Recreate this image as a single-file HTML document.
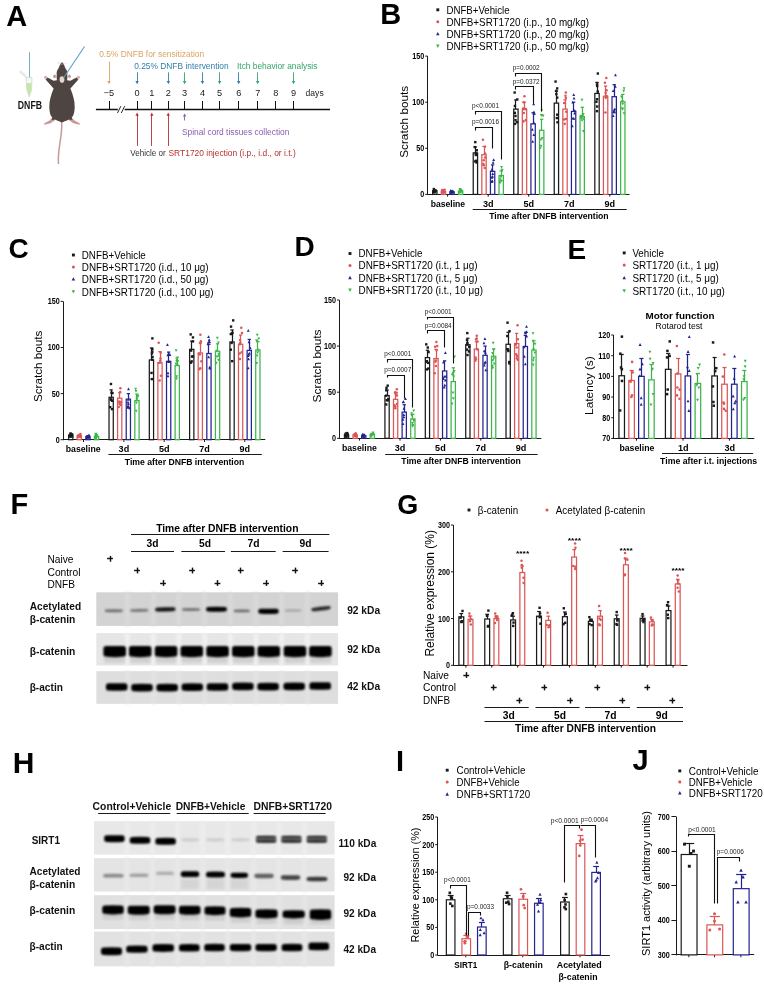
<!DOCTYPE html>
<html><head><meta charset="utf-8"><style>
html,body{margin:0;padding:0;background:#fff;}
body{width:764px;height:985px;overflow:hidden;}
svg{display:block;font-family:"Liberation Sans", sans-serif;filter:blur(0.3px);}
</style></head><body>
<svg width="764" height="985" viewBox="0 0 764 985">
<defs>
<filter id="bl" x="-20%" y="-100%" width="140%" height="300%"><feGaussianBlur stdDeviation="0.85"/></filter>
<filter id="bl2" x="-100%" y="-20%" width="300%" height="140%"><feGaussianBlur stdDeviation="1.6"/></filter>
</defs>
<rect width="764" height="985" fill="#fff"/>
<text x="6.2" y="26.3" font-size="29" font-weight="bold" fill="#000">A</text>
<line x1="29.5" y1="52.2" x2="29.5" y2="77.5" stroke="#6fa8cc" stroke-width="0.95"/>
<path d="M19.2,71.6 L26,77.6 M20.2,70.6 L26.6,76.4" fill="none" stroke="#bdbdbd" stroke-width="0.6"/>
<path d="M26,77.5 L32,77.5 L31.6,90 L29.2,97 L26.8,90 Z" fill="#f4f7f4" stroke="#c4ccc4" stroke-width="0.6"/>
<path d="M26.4,83 L31.6,83 L31.3,90 L29.2,96.3 L27.1,90 Z" fill="#c4e6a8"/>
<text x="17.8" y="108.8" font-size="10" font-weight="bold" fill="#111" textLength="24.2" lengthAdjust="spacingAndGlyphs">DNFB</text>
<path d="M61.6,122 C63,135 57,150 58.5,164" fill="none" stroke="#c49a98" stroke-width="1.5"/>
<path d="M54,116 L49.5,120.5 L44,123.6 L44.6,124.8 L50.5,123.2 L56,119.5 Z" fill="#c99794"/>
<path d="M53.2,115.5 L51.5,119.5 L54.2,120 L56,117 Z" fill="#4e4543"/>
<path d="M70,116 L74.5,120.5 L80,123.6 L79.4,124.8 L73.5,123.2 L68,119.5 Z" fill="#c99794"/>
<path d="M70.8,115.5 L72.5,119.5 L69.8,120 L68,117 Z" fill="#4e4543"/>
<circle cx="45.6" cy="77.3" r="1.6" fill="#d9b0aa"/>
<circle cx="78.4" cy="77.3" r="1.6" fill="#d9b0aa"/>
<path d="M62,62.3 C60.6,62.8 59.6,65.5 58.6,68.3 C57.2,70 56.4,72 56.7,74.2 C56.5,76.3 56.6,78.2 56.9,80.2 L53.6,80.8 L47.6,77.6 L45.6,79.6 L53.6,88.6 C51,95 49.1,101 49.3,107.5 C49.5,112 50.1,115 52,117.2 C54.5,119.6 58,120.9 61.9,122.4 C66,120.9 69.5,119.6 72,117.2 C73.9,115 74.5,112 74.7,107.5 C74.9,101 73,95 70.4,88.6 L78.4,79.6 L76.4,77.6 L70.4,80.8 L67.1,80.2 C67.4,78.2 67.5,76.3 67.3,74.2 C67.6,72 66.8,70 65.4,68.3 C64.4,65.5 63.4,62.8 62,62.3 Z" fill="#4e4543"/>
<ellipse cx="54.6" cy="76.3" rx="1.5" ry="1.9" fill="#cf9a95"/>
<ellipse cx="69.4" cy="76.3" rx="1.5" ry="1.9" fill="#cf9a95"/>
<ellipse cx="62" cy="79.6" rx="2.4" ry="3.3" fill="#e5d6cc"/>
<path d="M57,63 L62,64.5 M57.5,61.5 L62,64 M67,63 L62.5,64.5" stroke="#cfcfcf" stroke-width="0.4"/>
<line x1="84.5" y1="46.5" x2="63.5" y2="78" stroke="#5b9cc4" stroke-width="1.1"/>
<text x="99.2" y="56.7" font-size="9.2" fill="#d9a564" textLength="105" lengthAdjust="spacingAndGlyphs">0.5% DNFB for sensitization</text>
<text x="134.2" y="69" font-size="9.2" fill="#2f7fa8" textLength="94.5" lengthAdjust="spacingAndGlyphs">0.25% DNFB intervention</text>
<text x="237" y="69" font-size="9.2" fill="#35a46a" textLength="80.4" lengthAdjust="spacingAndGlyphs">Itch behavior analysis</text>
<line x1="109.5" y1="61.6" x2="109.5" y2="82.7" stroke="#d9a564" stroke-width="0.9"/>
<polygon points="107.3,81 110.7,81 109,84.2" fill="#d9a564"/>
<line x1="137.5" y1="72.4" x2="137.5" y2="82.7" stroke="#2f7fa8" stroke-width="0.9"/>
<polygon points="135.4,81 138.8,81 137.1,84.2" fill="#2f7fa8"/>
<line x1="168.5" y1="72.4" x2="168.5" y2="82.7" stroke="#2f7fa8" stroke-width="0.9"/>
<polygon points="166.7,81 170.1,81 168.4,84.2" fill="#2f7fa8"/>
<line x1="202.5" y1="72.4" x2="202.5" y2="82.7" stroke="#2f7fa8" stroke-width="0.9"/>
<polygon points="200.8,81 204.2,81 202.5,84.2" fill="#2f7fa8"/>
<line x1="238.5" y1="72.4" x2="238.5" y2="82.7" stroke="#2f7fa8" stroke-width="0.9"/>
<polygon points="237,81 240.4,81 238.7,84.2" fill="#2f7fa8"/>
<line x1="184.5" y1="72.4" x2="184.5" y2="82.7" stroke="#35a46a" stroke-width="0.9"/>
<polygon points="182.9,81 186.3,81 184.6,84.2" fill="#35a46a"/>
<line x1="219.5" y1="72.4" x2="219.5" y2="82.7" stroke="#35a46a" stroke-width="0.9"/>
<polygon points="217.9,81 221.3,81 219.6,84.2" fill="#35a46a"/>
<line x1="257.5" y1="72.4" x2="257.5" y2="82.7" stroke="#35a46a" stroke-width="0.9"/>
<polygon points="256,81 259.4,81 257.7,84.2" fill="#35a46a"/>
<line x1="293.5" y1="72.4" x2="293.5" y2="82.7" stroke="#35a46a" stroke-width="0.9"/>
<polygon points="291.8,81 295.2,81 293.5,84.2" fill="#35a46a"/>
<text x="109" y="95.6" font-size="9.2" fill="#222" text-anchor="middle">−5</text>
<text x="137.1" y="95.6" font-size="9.2" fill="#222" text-anchor="middle">0</text>
<text x="151.8" y="95.6" font-size="9.2" fill="#222" text-anchor="middle">1</text>
<text x="168.2" y="95.6" font-size="9.2" fill="#222" text-anchor="middle">2</text>
<text x="184.6" y="95.6" font-size="9.2" fill="#222" text-anchor="middle">3</text>
<text x="202.5" y="95.6" font-size="9.2" fill="#222" text-anchor="middle">4</text>
<text x="219.6" y="95.6" font-size="9.2" fill="#222" text-anchor="middle">5</text>
<text x="238.8" y="95.6" font-size="9.2" fill="#222" text-anchor="middle">6</text>
<text x="257.7" y="95.6" font-size="9.2" fill="#222" text-anchor="middle">7</text>
<text x="275.8" y="95.6" font-size="9.2" fill="#222" text-anchor="middle">8</text>
<text x="293.5" y="95.6" font-size="9.2" fill="#222" text-anchor="middle">9</text>
<text x="305.6" y="95.6" font-size="9.2" fill="#222" textLength="18.1" lengthAdjust="spacingAndGlyphs">days</text>
<line x1="95.9" y1="109.5" x2="330" y2="109.5" stroke="#111" stroke-width="1.3"/>
<line x1="109.5" y1="101" x2="109.5" y2="109.6" stroke="#111" stroke-width="1"/>
<line x1="137.5" y1="101" x2="137.5" y2="109.6" stroke="#111" stroke-width="1"/>
<line x1="151.5" y1="101" x2="151.5" y2="109.6" stroke="#111" stroke-width="1"/>
<line x1="168.5" y1="101" x2="168.5" y2="109.6" stroke="#111" stroke-width="1"/>
<line x1="184.5" y1="101" x2="184.5" y2="109.6" stroke="#111" stroke-width="1"/>
<line x1="202.5" y1="101" x2="202.5" y2="109.6" stroke="#111" stroke-width="1"/>
<line x1="219.5" y1="101" x2="219.5" y2="109.6" stroke="#111" stroke-width="1"/>
<line x1="238.5" y1="101" x2="238.5" y2="109.6" stroke="#111" stroke-width="1"/>
<line x1="257.5" y1="101" x2="257.5" y2="109.6" stroke="#111" stroke-width="1"/>
<line x1="275.5" y1="101" x2="275.5" y2="109.6" stroke="#111" stroke-width="1"/>
<line x1="293.5" y1="101" x2="293.5" y2="109.6" stroke="#111" stroke-width="1"/>
<rect x="117.8" y="107" width="6.8" height="5" fill="#fff"/>
<line x1="117.5" y1="113" x2="120.8" y2="106.2" stroke="#111" stroke-width="0.9"/>
<line x1="121.3" y1="113" x2="124.6" y2="106.2" stroke="#111" stroke-width="0.9"/>
<line x1="137.5" y1="146" x2="137.5" y2="114.1" stroke="#b3322f" stroke-width="0.9"/>
<polygon points="135.4,115.8 138.8,115.8 137.1,112.6" fill="#b3322f"/>
<line x1="151.5" y1="146" x2="151.5" y2="114.1" stroke="#b3322f" stroke-width="0.9"/>
<polygon points="150.1,115.8 153.5,115.8 151.8,112.6" fill="#b3322f"/>
<line x1="168.5" y1="146" x2="168.5" y2="114.1" stroke="#b3322f" stroke-width="0.9"/>
<polygon points="166.5,115.8 169.9,115.8 168.2,112.6" fill="#b3322f"/>
<line x1="184.5" y1="120.5" x2="184.5" y2="114.9" stroke="#8a5cb0" stroke-width="0.9"/>
<polygon points="182.9,116.6 186.3,116.6 184.6,113.4" fill="#8a5cb0"/>
<text x="181.9" y="134.6" font-size="9.2" fill="#8a5cb0" textLength="107.5" lengthAdjust="spacingAndGlyphs">Spinal cord tissues collection</text>
<text x="130.3" y="155.5" font-size="9.2" fill="#333" textLength="35.3" lengthAdjust="spacingAndGlyphs">Vehicle or</text>
<text x="168.5" y="155.5" font-size="9.2" fill="#b3322f" textLength="127.2" lengthAdjust="spacingAndGlyphs">SRT1720 injection (i.p., i.d., or i.t.)</text>
<text x="380.2" y="24.2" font-size="29" font-weight="bold" fill="#000">B</text>
<rect x="436.35" y="8.36" width="2.9" height="2.9" fill="#1a1a1a"/>
<text x="446.5" y="13.7" font-size="10.8" textLength="63.1" lengthAdjust="spacingAndGlyphs">DNFB+Vehicle</text>
<circle cx="437.8" cy="21.71" r="1.52" fill="#dc5656"/>
<text x="446.5" y="25.6" font-size="10.8" textLength="142.5" lengthAdjust="spacingAndGlyphs">DNFB+SRT1720 (i.p., 10 mg/kg)</text>
<polygon points="437.8,31.93 436.06,35.26 439.54,35.26" fill="#23238f"/>
<text x="446.5" y="37.7" font-size="10.8" textLength="142.5" lengthAdjust="spacingAndGlyphs">DNFB+SRT1720 (i.p., 20 mg/kg)</text>
<polygon points="437.8,47.9 436.06,44.56 439.54,44.56" fill="#3db54a"/>
<text x="446.5" y="49.9" font-size="10.8" textLength="142.5" lengthAdjust="spacingAndGlyphs">DNFB+SRT1720 (i.p., 50 mg/kg)</text>
<line x1="427.5" y1="56.1" x2="427.5" y2="194.9" stroke="#1a1a1a" stroke-width="1"/>
<line x1="425.2" y1="194.4" x2="427.5" y2="194.4" stroke="#1a1a1a" stroke-width="1"/>
<text x="424.2" y="197.35" font-size="8.2" font-weight="bold" text-anchor="end" textLength="4" lengthAdjust="spacingAndGlyphs">0</text>
<line x1="425.2" y1="148.3" x2="427.5" y2="148.3" stroke="#1a1a1a" stroke-width="1"/>
<text x="424.2" y="151.25" font-size="8.2" font-weight="bold" text-anchor="end" textLength="8" lengthAdjust="spacingAndGlyphs">50</text>
<line x1="425.2" y1="102.2" x2="427.5" y2="102.2" stroke="#1a1a1a" stroke-width="1"/>
<text x="424.2" y="105.15" font-size="8.2" font-weight="bold" text-anchor="end" textLength="12" lengthAdjust="spacingAndGlyphs">100</text>
<line x1="425.2" y1="56.1" x2="427.5" y2="56.1" stroke="#1a1a1a" stroke-width="1"/>
<text x="424.2" y="59.05" font-size="8.2" font-weight="bold" text-anchor="end" textLength="12" lengthAdjust="spacingAndGlyphs">150</text>
<line x1="427.5" y1="194.5" x2="629.5" y2="194.5" stroke="#1a1a1a" stroke-width="1"/>
<line x1="447.6" y1="194.4" x2="447.6" y2="196.7" stroke="#1a1a1a" stroke-width="1"/>
<line x1="488.2" y1="194.4" x2="488.2" y2="196.7" stroke="#1a1a1a" stroke-width="1"/>
<line x1="528.7" y1="194.4" x2="528.7" y2="196.7" stroke="#1a1a1a" stroke-width="1"/>
<line x1="569.2" y1="194.4" x2="569.2" y2="196.7" stroke="#1a1a1a" stroke-width="1"/>
<line x1="609.8" y1="194.4" x2="609.8" y2="196.7" stroke="#1a1a1a" stroke-width="1"/>
<rect x="432.62" y="190.71" width="4.35" height="3.69" fill="#fff" stroke="#1a1a1a" stroke-width="1.25"/>
<line x1="434.8" y1="190.71" x2="434.8" y2="189.79" stroke="#1a1a1a" stroke-width="1.25"/>
<line x1="433.12" y1="189.79" x2="436.48" y2="189.79" stroke="#1a1a1a" stroke-width="1.25"/>
<rect x="432.62" y="187.85" width="2.4" height="2.4" fill="#1a1a1a"/>
<rect x="432.4" y="190.99" width="2.4" height="2.4" fill="#1a1a1a"/>
<rect x="433.22" y="189.41" width="2.4" height="2.4" fill="#1a1a1a"/>
<rect x="433.62" y="190.73" width="2.4" height="2.4" fill="#1a1a1a"/>
<rect x="433.41" y="190.79" width="2.4" height="2.4" fill="#1a1a1a"/>
<rect x="432.45" y="190.7" width="2.4" height="2.4" fill="#1a1a1a"/>
<rect x="434.52" y="189.72" width="2.4" height="2.4" fill="#1a1a1a"/>
<rect x="432.83" y="190.55" width="2.4" height="2.4" fill="#1a1a1a"/>
<rect x="441.23" y="191.36" width="4.35" height="3.04" fill="#fff" stroke="#dc5656" stroke-width="1.25"/>
<line x1="443.4" y1="191.36" x2="443.4" y2="190.44" stroke="#dc5656" stroke-width="1.25"/>
<line x1="441.72" y1="190.44" x2="445.08" y2="190.44" stroke="#dc5656" stroke-width="1.25"/>
<circle cx="444.65" cy="189.7" r="1.26" fill="#dc5656"/>
<circle cx="443.11" cy="192.83" r="1.26" fill="#dc5656"/>
<circle cx="442.13" cy="190.04" r="1.26" fill="#dc5656"/>
<circle cx="442.81" cy="190.37" r="1.26" fill="#dc5656"/>
<circle cx="442.33" cy="192.34" r="1.26" fill="#dc5656"/>
<circle cx="444.29" cy="191.89" r="1.26" fill="#dc5656"/>
<circle cx="443.63" cy="192.24" r="1.26" fill="#dc5656"/>
<circle cx="443.04" cy="190.97" r="1.26" fill="#dc5656"/>
<rect x="449.82" y="191.82" width="4.35" height="2.58" fill="#fff" stroke="#23238f" stroke-width="1.25"/>
<line x1="452" y1="191.82" x2="452" y2="191.08" stroke="#23238f" stroke-width="1.25"/>
<line x1="450.32" y1="191.08" x2="453.68" y2="191.08" stroke="#23238f" stroke-width="1.25"/>
<polygon points="450.78,188.93 449.34,191.69 452.22,191.69" fill="#23238f"/>
<polygon points="451.18,191.44 449.74,194.2 452.62,194.2" fill="#23238f"/>
<polygon points="451.8,189.86 450.36,192.62 453.24,192.62" fill="#23238f"/>
<polygon points="452.24,190.67 450.8,193.43 453.68,193.43" fill="#23238f"/>
<polygon points="451.44,190.36 450,193.12 452.88,193.12" fill="#23238f"/>
<polygon points="452.56,189.61 451.12,192.37 454,192.37" fill="#23238f"/>
<polygon points="452.21,190.82 450.77,193.58 453.65,193.58" fill="#23238f"/>
<polygon points="453.05,190.2 451.61,192.96 454.49,192.96" fill="#23238f"/>
<rect x="458.43" y="190.9" width="4.35" height="3.5" fill="#fff" stroke="#3db54a" stroke-width="1.25"/>
<line x1="460.6" y1="190.9" x2="460.6" y2="189.97" stroke="#3db54a" stroke-width="1.25"/>
<line x1="458.92" y1="189.97" x2="462.28" y2="189.97" stroke="#3db54a" stroke-width="1.25"/>
<polygon points="460.01,190.8 458.57,188.04 461.45,188.04" fill="#3db54a"/>
<polygon points="459.53,193.93 458.09,191.17 460.97,191.17" fill="#3db54a"/>
<polygon points="461.32,192.68 459.88,189.92 462.76,189.92" fill="#3db54a"/>
<polygon points="460.57,193.42 459.13,190.66 462.01,190.66" fill="#3db54a"/>
<polygon points="461.07,193.73 459.63,190.97 462.51,190.97" fill="#3db54a"/>
<polygon points="460.8,191.72 459.36,188.96 462.24,188.96" fill="#3db54a"/>
<polygon points="460.08,191.42 458.64,188.66 461.52,188.66" fill="#3db54a"/>
<polygon points="460.86,191.92 459.42,189.16 462.3,189.16" fill="#3db54a"/>
<rect x="473.23" y="152.91" width="4.35" height="41.49" fill="#fff" stroke="#1a1a1a" stroke-width="1.25"/>
<line x1="475.5" y1="152.91" x2="475.5" y2="146.92" stroke="#1a1a1a" stroke-width="1.25"/>
<line x1="473.72" y1="146.92" x2="477.08" y2="146.92" stroke="#1a1a1a" stroke-width="1.25"/>
<rect x="474.08" y="140.92" width="2.4" height="2.4" fill="#1a1a1a"/>
<rect x="475.45" y="161.3" width="2.4" height="2.4" fill="#1a1a1a"/>
<rect x="474.66" y="152.18" width="2.4" height="2.4" fill="#1a1a1a"/>
<rect x="474.76" y="159.61" width="2.4" height="2.4" fill="#1a1a1a"/>
<rect x="475.58" y="149.06" width="2.4" height="2.4" fill="#1a1a1a"/>
<rect x="473.6" y="145.92" width="2.4" height="2.4" fill="#1a1a1a"/>
<rect x="474.67" y="153.76" width="2.4" height="2.4" fill="#1a1a1a"/>
<rect x="474.09" y="160.29" width="2.4" height="2.4" fill="#1a1a1a"/>
<rect x="481.83" y="154.75" width="4.35" height="39.65" fill="#fff" stroke="#dc5656" stroke-width="1.25"/>
<line x1="484.5" y1="154.75" x2="484.5" y2="146.46" stroke="#dc5656" stroke-width="1.25"/>
<line x1="482.32" y1="146.46" x2="485.68" y2="146.46" stroke="#dc5656" stroke-width="1.25"/>
<circle cx="482.93" cy="139.82" r="1.26" fill="#dc5656"/>
<circle cx="484.75" cy="168.03" r="1.26" fill="#dc5656"/>
<circle cx="483.29" cy="163.98" r="1.26" fill="#dc5656"/>
<circle cx="485.04" cy="157.47" r="1.26" fill="#dc5656"/>
<circle cx="483.86" cy="165.2" r="1.26" fill="#dc5656"/>
<circle cx="485.07" cy="153.52" r="1.26" fill="#dc5656"/>
<circle cx="485.02" cy="146.81" r="1.26" fill="#dc5656"/>
<circle cx="483.76" cy="160.27" r="1.26" fill="#dc5656"/>
<rect x="490.43" y="171.35" width="4.35" height="23.05" fill="#fff" stroke="#23238f" stroke-width="1.25"/>
<line x1="492.5" y1="171.35" x2="492.5" y2="164.9" stroke="#23238f" stroke-width="1.25"/>
<line x1="490.92" y1="164.9" x2="494.28" y2="164.9" stroke="#23238f" stroke-width="1.25"/>
<polygon points="493.68,158.17 492.24,160.93 495.12,160.93" fill="#23238f"/>
<polygon points="491.62,180.12 490.18,182.88 493.06,182.88" fill="#23238f"/>
<polygon points="491.85,176.06 490.41,178.82 493.29,178.82" fill="#23238f"/>
<polygon points="492.56,174.95 491.12,177.71 494,177.71" fill="#23238f"/>
<polygon points="491.94,168.06 490.5,170.82 493.38,170.82" fill="#23238f"/>
<polygon points="492.37,179.39 490.93,182.15 493.81,182.15" fill="#23238f"/>
<polygon points="492.79,172.32 491.35,175.08 494.23,175.08" fill="#23238f"/>
<polygon points="493.13,161.02 491.69,163.78 494.57,163.78" fill="#23238f"/>
<rect x="499.03" y="175.5" width="4.35" height="18.9" fill="#fff" stroke="#3db54a" stroke-width="1.25"/>
<line x1="501.5" y1="175.5" x2="501.5" y2="170.89" stroke="#3db54a" stroke-width="1.25"/>
<line x1="499.52" y1="170.89" x2="502.88" y2="170.89" stroke="#3db54a" stroke-width="1.25"/>
<polygon points="501.53,168.76 500.09,166 502.97,166" fill="#3db54a"/>
<polygon points="499.95,184.44 498.51,181.68 501.39,181.68" fill="#3db54a"/>
<polygon points="501.98,171.53 500.54,168.77 503.42,168.77" fill="#3db54a"/>
<polygon points="502.03,171.88 500.59,169.12 503.47,169.12" fill="#3db54a"/>
<polygon points="500.92,178.55 499.48,175.79 502.36,175.79" fill="#3db54a"/>
<polygon points="501.58,182.54 500.14,179.78 503.02,179.78" fill="#3db54a"/>
<polygon points="499.99,183.11 498.55,180.35 501.43,180.35" fill="#3db54a"/>
<polygon points="500.25,181.09 498.81,178.33 501.69,178.33" fill="#3db54a"/>
<rect x="513.73" y="109.11" width="4.35" height="85.29" fill="#fff" stroke="#1a1a1a" stroke-width="1.25"/>
<line x1="515.5" y1="109.11" x2="515.5" y2="99.89" stroke="#1a1a1a" stroke-width="1.25"/>
<line x1="514.22" y1="99.89" x2="517.58" y2="99.89" stroke="#1a1a1a" stroke-width="1.25"/>
<rect x="513.45" y="91.32" width="2.4" height="2.4" fill="#1a1a1a"/>
<rect x="513.72" y="122.67" width="2.4" height="2.4" fill="#1a1a1a"/>
<rect x="514.32" y="118.94" width="2.4" height="2.4" fill="#1a1a1a"/>
<rect x="515.75" y="121.04" width="2.4" height="2.4" fill="#1a1a1a"/>
<rect x="513.72" y="104.76" width="2.4" height="2.4" fill="#1a1a1a"/>
<rect x="514.27" y="114.77" width="2.4" height="2.4" fill="#1a1a1a"/>
<rect x="513.64" y="111.67" width="2.4" height="2.4" fill="#1a1a1a"/>
<rect x="516.08" y="98.26" width="2.4" height="2.4" fill="#1a1a1a"/>
<rect x="522.33" y="109.58" width="4.35" height="84.82" fill="#fff" stroke="#dc5656" stroke-width="1.25"/>
<line x1="524.5" y1="109.58" x2="524.5" y2="102.2" stroke="#dc5656" stroke-width="1.25"/>
<line x1="522.82" y1="102.2" x2="526.18" y2="102.2" stroke="#dc5656" stroke-width="1.25"/>
<circle cx="524.45" cy="96.3" r="1.26" fill="#dc5656"/>
<circle cx="523.39" cy="121.38" r="1.26" fill="#dc5656"/>
<circle cx="523.84" cy="113.06" r="1.26" fill="#dc5656"/>
<circle cx="523.55" cy="102.3" r="1.26" fill="#dc5656"/>
<circle cx="525.76" cy="120.13" r="1.26" fill="#dc5656"/>
<circle cx="523.51" cy="108.95" r="1.26" fill="#dc5656"/>
<circle cx="523.18" cy="108.62" r="1.26" fill="#dc5656"/>
<circle cx="525.84" cy="108.95" r="1.26" fill="#dc5656"/>
<rect x="530.93" y="123.87" width="4.35" height="70.53" fill="#fff" stroke="#23238f" stroke-width="1.25"/>
<line x1="533.5" y1="123.87" x2="533.5" y2="112.8" stroke="#23238f" stroke-width="1.25"/>
<line x1="531.42" y1="112.8" x2="534.78" y2="112.8" stroke="#23238f" stroke-width="1.25"/>
<polygon points="533.65,102.39 532.21,105.15 535.09,105.15" fill="#23238f"/>
<polygon points="532.73,140.01 531.29,142.77 534.17,142.77" fill="#23238f"/>
<polygon points="533.86,133.36 532.42,136.12 535.3,136.12" fill="#23238f"/>
<polygon points="533.88,121.23 532.44,123.99 535.32,123.99" fill="#23238f"/>
<polygon points="532.32,127.96 530.88,130.72 533.76,130.72" fill="#23238f"/>
<polygon points="534.46,111.97 533.02,114.73 535.9,114.73" fill="#23238f"/>
<polygon points="533.96,110.6 532.52,113.36 535.4,113.36" fill="#23238f"/>
<polygon points="533.77,111.74 532.33,114.5 535.21,114.5" fill="#23238f"/>
<rect x="539.52" y="130.32" width="4.35" height="64.08" fill="#fff" stroke="#3db54a" stroke-width="1.25"/>
<line x1="541.5" y1="130.32" x2="541.5" y2="119.26" stroke="#3db54a" stroke-width="1.25"/>
<line x1="540.02" y1="119.26" x2="543.38" y2="119.26" stroke="#3db54a" stroke-width="1.25"/>
<polygon points="541.75,111.97 540.31,109.21 543.19,109.21" fill="#3db54a"/>
<polygon points="540.38,149.58 538.94,146.82 541.82,146.82" fill="#3db54a"/>
<polygon points="541.08,147.55 539.64,144.79 542.52,144.79" fill="#3db54a"/>
<polygon points="542.24,139.87 540.8,137.11 543.68,137.11" fill="#3db54a"/>
<polygon points="541.55,116.73 540.11,113.97 542.99,113.97" fill="#3db54a"/>
<polygon points="543.07,117.38 541.63,114.62 544.51,114.62" fill="#3db54a"/>
<polygon points="541.32,116.78 539.88,114.02 542.76,114.02" fill="#3db54a"/>
<polygon points="540.94,141.16 539.5,138.4 542.38,138.4" fill="#3db54a"/>
<rect x="554.23" y="103.12" width="4.35" height="91.28" fill="#fff" stroke="#1a1a1a" stroke-width="1.25"/>
<line x1="556.5" y1="103.12" x2="556.5" y2="91.14" stroke="#1a1a1a" stroke-width="1.25"/>
<line x1="554.72" y1="91.14" x2="558.08" y2="91.14" stroke="#1a1a1a" stroke-width="1.25"/>
<rect x="554.37" y="80.35" width="2.4" height="2.4" fill="#1a1a1a"/>
<rect x="556.32" y="121.1" width="2.4" height="2.4" fill="#1a1a1a"/>
<rect x="555.14" y="89.68" width="2.4" height="2.4" fill="#1a1a1a"/>
<rect x="556.04" y="96.42" width="2.4" height="2.4" fill="#1a1a1a"/>
<rect x="555.65" y="116.85" width="2.4" height="2.4" fill="#1a1a1a"/>
<rect x="555.99" y="87.19" width="2.4" height="2.4" fill="#1a1a1a"/>
<rect x="555.14" y="92.93" width="2.4" height="2.4" fill="#1a1a1a"/>
<rect x="556.01" y="113.48" width="2.4" height="2.4" fill="#1a1a1a"/>
<rect x="562.83" y="109.11" width="4.35" height="85.29" fill="#fff" stroke="#dc5656" stroke-width="1.25"/>
<line x1="565.5" y1="109.11" x2="565.5" y2="99.89" stroke="#dc5656" stroke-width="1.25"/>
<line x1="563.32" y1="99.89" x2="566.68" y2="99.89" stroke="#dc5656" stroke-width="1.25"/>
<circle cx="565.84" cy="92.52" r="1.26" fill="#dc5656"/>
<circle cx="564.71" cy="123.87" r="1.26" fill="#dc5656"/>
<circle cx="566.25" cy="111.84" r="1.26" fill="#dc5656"/>
<circle cx="564.08" cy="102.9" r="1.26" fill="#dc5656"/>
<circle cx="564.02" cy="119.43" r="1.26" fill="#dc5656"/>
<circle cx="565.86" cy="97.92" r="1.26" fill="#dc5656"/>
<circle cx="565.91" cy="118.9" r="1.26" fill="#dc5656"/>
<circle cx="565.44" cy="95.83" r="1.26" fill="#dc5656"/>
<rect x="571.43" y="111.42" width="4.35" height="82.98" fill="#fff" stroke="#23238f" stroke-width="1.25"/>
<line x1="573.5" y1="111.42" x2="573.5" y2="102.2" stroke="#23238f" stroke-width="1.25"/>
<line x1="571.92" y1="102.2" x2="575.28" y2="102.2" stroke="#23238f" stroke-width="1.25"/>
<polygon points="573.74,93.26 572.3,96.02 575.18,96.02" fill="#23238f"/>
<polygon points="572.24,124.61 570.8,127.37 573.68,127.37" fill="#23238f"/>
<polygon points="574.02,96.84 572.58,99.6 575.46,99.6" fill="#23238f"/>
<polygon points="574.81,109.12 573.37,111.88 576.25,111.88" fill="#23238f"/>
<polygon points="574.64,111.69 573.2,114.45 576.08,114.45" fill="#23238f"/>
<polygon points="572.79,100.84 571.35,103.6 574.23,103.6" fill="#23238f"/>
<polygon points="573.02,116.72 571.58,119.48 574.46,119.48" fill="#23238f"/>
<polygon points="573.84,117.04 572.4,119.8 575.28,119.8" fill="#23238f"/>
<rect x="580.02" y="116.49" width="4.35" height="77.91" fill="#fff" stroke="#3db54a" stroke-width="1.25"/>
<line x1="582.5" y1="116.49" x2="582.5" y2="107.27" stroke="#3db54a" stroke-width="1.25"/>
<line x1="580.52" y1="107.27" x2="583.88" y2="107.27" stroke="#3db54a" stroke-width="1.25"/>
<polygon points="581.97,101.45 580.53,98.69 583.41,98.69" fill="#3db54a"/>
<polygon points="583.35,132.8 581.91,130.04 584.79,130.04" fill="#3db54a"/>
<polygon points="582.08,122.1 580.64,119.34 583.52,119.34" fill="#3db54a"/>
<polygon points="583.33,115.75 581.89,112.99 584.77,112.99" fill="#3db54a"/>
<polygon points="583.37,120.25 581.93,117.49 584.81,117.49" fill="#3db54a"/>
<polygon points="582.29,118.01 580.85,115.25 583.73,115.25" fill="#3db54a"/>
<polygon points="580.85,117.4 579.41,114.64 582.29,114.64" fill="#3db54a"/>
<polygon points="581.31,119.71 579.87,116.95 582.75,116.95" fill="#3db54a"/>
<rect x="594.83" y="93.44" width="4.35" height="100.96" fill="#fff" stroke="#1a1a1a" stroke-width="1.25"/>
<line x1="597.5" y1="93.44" x2="597.5" y2="82.38" stroke="#1a1a1a" stroke-width="1.25"/>
<line x1="595.32" y1="82.38" x2="598.68" y2="82.38" stroke="#1a1a1a" stroke-width="1.25"/>
<rect x="596.64" y="72.33" width="2.4" height="2.4" fill="#1a1a1a"/>
<rect x="595.73" y="109.94" width="2.4" height="2.4" fill="#1a1a1a"/>
<rect x="595.96" y="84.77" width="2.4" height="2.4" fill="#1a1a1a"/>
<rect x="595.85" y="98.02" width="2.4" height="2.4" fill="#1a1a1a"/>
<rect x="596.6" y="90.4" width="2.4" height="2.4" fill="#1a1a1a"/>
<rect x="595.97" y="105.32" width="2.4" height="2.4" fill="#1a1a1a"/>
<rect x="595.18" y="100.59" width="2.4" height="2.4" fill="#1a1a1a"/>
<rect x="595.82" y="83.2" width="2.4" height="2.4" fill="#1a1a1a"/>
<rect x="603.43" y="96.21" width="4.35" height="98.19" fill="#fff" stroke="#dc5656" stroke-width="1.25"/>
<line x1="605.5" y1="96.21" x2="605.5" y2="86.07" stroke="#dc5656" stroke-width="1.25"/>
<line x1="603.92" y1="86.07" x2="607.28" y2="86.07" stroke="#dc5656" stroke-width="1.25"/>
<circle cx="606.33" cy="77.95" r="1.26" fill="#dc5656"/>
<circle cx="605.44" cy="112.43" r="1.26" fill="#dc5656"/>
<circle cx="605.62" cy="92.78" r="1.26" fill="#dc5656"/>
<circle cx="606.14" cy="95.84" r="1.26" fill="#dc5656"/>
<circle cx="605.69" cy="97.66" r="1.26" fill="#dc5656"/>
<circle cx="606.84" cy="96.88" r="1.26" fill="#dc5656"/>
<circle cx="606.65" cy="90.15" r="1.26" fill="#dc5656"/>
<circle cx="604.93" cy="82.75" r="1.26" fill="#dc5656"/>
<rect x="612.03" y="96.67" width="4.35" height="97.73" fill="#fff" stroke="#23238f" stroke-width="1.25"/>
<line x1="614.5" y1="96.67" x2="614.5" y2="84.68" stroke="#23238f" stroke-width="1.25"/>
<line x1="612.52" y1="84.68" x2="615.88" y2="84.68" stroke="#23238f" stroke-width="1.25"/>
<polygon points="615.44,73.53 614,76.29 616.88,76.29" fill="#23238f"/>
<polygon points="613.18,114.29 611.74,117.05 614.62,117.05" fill="#23238f"/>
<polygon points="614.04,108.71 612.6,111.47 615.48,111.47" fill="#23238f"/>
<polygon points="613.47,110.48 612.03,113.24 614.91,113.24" fill="#23238f"/>
<polygon points="614.67,110.46 613.23,113.22 616.11,113.22" fill="#23238f"/>
<polygon points="615.31,84.9 613.87,87.66 616.75,87.66" fill="#23238f"/>
<polygon points="614.81,107.53 613.37,110.29 616.25,110.29" fill="#23238f"/>
<polygon points="613.2,89.35 611.76,92.11 614.64,92.11" fill="#23238f"/>
<rect x="620.62" y="101.74" width="4.35" height="92.66" fill="#fff" stroke="#3db54a" stroke-width="1.25"/>
<line x1="622.5" y1="101.74" x2="622.5" y2="94.36" stroke="#3db54a" stroke-width="1.25"/>
<line x1="621.12" y1="94.36" x2="624.48" y2="94.36" stroke="#3db54a" stroke-width="1.25"/>
<polygon points="624.11,90.02 622.67,87.26 625.55,87.26" fill="#3db54a"/>
<polygon points="624.07,115.1 622.63,112.34 625.51,112.34" fill="#3db54a"/>
<polygon points="622.76,105.55 621.32,102.79 624.2,102.79" fill="#3db54a"/>
<polygon points="623.73,92.46 622.29,89.7 625.17,89.7" fill="#3db54a"/>
<polygon points="622.61,110.79 621.17,108.03 624.05,108.03" fill="#3db54a"/>
<polygon points="622.35,102.95 620.91,100.19 623.79,100.19" fill="#3db54a"/>
<polygon points="622.29,110.03 620.85,107.27 623.73,107.27" fill="#3db54a"/>
<polygon points="621.45,98.38 620.01,95.62 622.89,95.62" fill="#3db54a"/>
<text x="447.9" y="206.6" font-size="8.8" font-weight="bold" text-anchor="middle" textLength="34.5" lengthAdjust="spacingAndGlyphs">baseline</text>
<text x="488.2" y="206.6" font-size="8.8" font-weight="bold" text-anchor="middle" textLength="10.6" lengthAdjust="spacingAndGlyphs">3d</text>
<text x="528.7" y="206.6" font-size="8.8" font-weight="bold" text-anchor="middle" textLength="10.6" lengthAdjust="spacingAndGlyphs">5d</text>
<text x="569.2" y="206.6" font-size="8.8" font-weight="bold" text-anchor="middle" textLength="10.6" lengthAdjust="spacingAndGlyphs">7d</text>
<text x="609.8" y="206.6" font-size="8.8" font-weight="bold" text-anchor="middle" textLength="10.6" lengthAdjust="spacingAndGlyphs">9d</text>
<line x1="472.7" y1="209.5" x2="626.7" y2="209.5" stroke="#1a1a1a" stroke-width="1"/>
<text x="548.9" y="218.7" font-size="8.8" font-weight="bold" text-anchor="middle" textLength="119.5" lengthAdjust="spacingAndGlyphs">Time after DNFB intervention</text>
<text x="407.6" y="121.8" font-size="11.5" text-anchor="middle" textLength="72" lengthAdjust="spacingAndGlyphs" transform="rotate(-90 407.6 121.8)">Scratch bouts</text>
<polyline points="475.5,114.5 475.5,111.5 501.5,111.5 501.5,159.5" fill="none" stroke="#111" stroke-width="1.1"/>
<text x="472" y="108.4" font-size="7.2" fill="#222" textLength="27" lengthAdjust="spacingAndGlyphs">p&lt;0.0001</text>
<polyline points="475.5,130.5 475.5,127.5 492.5,127.5 492.5,148.5" fill="none" stroke="#111" stroke-width="1.1"/>
<text x="472" y="123.9" font-size="7.2" fill="#222" textLength="27" lengthAdjust="spacingAndGlyphs">p=0.0016</text>
<polyline points="515.5,76.5 515.5,73.5 541.5,73.5 541.5,111.5" fill="none" stroke="#111" stroke-width="1.1"/>
<text x="512.7" y="70.4" font-size="7.2" fill="#222" textLength="27" lengthAdjust="spacingAndGlyphs">p=0.0002</text>
<polyline points="515.5,89.5 515.5,86.5 533.5,86.5 533.5,103.5" fill="none" stroke="#111" stroke-width="1.1"/>
<text x="512.7" y="83.6" font-size="7.2" fill="#222" textLength="27" lengthAdjust="spacingAndGlyphs">p=0.0372</text>
<text x="8.5" y="258" font-size="28" font-weight="bold" fill="#000">C</text>
<rect x="71.95" y="253.56" width="2.9" height="2.9" fill="#1a1a1a"/>
<text x="81.8" y="258.9" font-size="10.8" textLength="64" lengthAdjust="spacingAndGlyphs">DNFB+Vehicle</text>
<circle cx="73.4" cy="266.91" r="1.52" fill="#dc5656"/>
<text x="81.8" y="270.8" font-size="10.8" textLength="126.8" lengthAdjust="spacingAndGlyphs">DNFB+SRT1720 (i.d., 10 μg)</text>
<polygon points="73.4,277.13 71.66,280.46 75.14,280.46" fill="#23238f"/>
<text x="81.8" y="282.9" font-size="10.8" textLength="126.8" lengthAdjust="spacingAndGlyphs">DNFB+SRT1720 (i.d., 50 μg)</text>
<polygon points="73.4,293.5 71.66,290.16 75.14,290.16" fill="#3db54a"/>
<text x="81.8" y="295.5" font-size="10.8" textLength="131.8" lengthAdjust="spacingAndGlyphs">DNFB+SRT1720 (i.d., 100 μg)</text>
<line x1="63.5" y1="301.4" x2="63.5" y2="440.2" stroke="#1a1a1a" stroke-width="1"/>
<line x1="60.7" y1="439.7" x2="63" y2="439.7" stroke="#1a1a1a" stroke-width="1"/>
<text x="59.7" y="442.65" font-size="8.2" font-weight="bold" text-anchor="end" textLength="4" lengthAdjust="spacingAndGlyphs">0</text>
<line x1="60.7" y1="393.6" x2="63" y2="393.6" stroke="#1a1a1a" stroke-width="1"/>
<text x="59.7" y="396.55" font-size="8.2" font-weight="bold" text-anchor="end" textLength="8" lengthAdjust="spacingAndGlyphs">50</text>
<line x1="60.7" y1="347.5" x2="63" y2="347.5" stroke="#1a1a1a" stroke-width="1"/>
<text x="59.7" y="350.45" font-size="8.2" font-weight="bold" text-anchor="end" textLength="12" lengthAdjust="spacingAndGlyphs">100</text>
<line x1="60.7" y1="301.4" x2="63" y2="301.4" stroke="#1a1a1a" stroke-width="1"/>
<text x="59.7" y="304.35" font-size="8.2" font-weight="bold" text-anchor="end" textLength="12" lengthAdjust="spacingAndGlyphs">150</text>
<line x1="63" y1="439.5" x2="265.3" y2="439.5" stroke="#1a1a1a" stroke-width="1"/>
<line x1="83.5" y1="439.7" x2="83.5" y2="442" stroke="#1a1a1a" stroke-width="1"/>
<line x1="123.9" y1="439.7" x2="123.9" y2="442" stroke="#1a1a1a" stroke-width="1"/>
<line x1="164.2" y1="439.7" x2="164.2" y2="442" stroke="#1a1a1a" stroke-width="1"/>
<line x1="204.5" y1="439.7" x2="204.5" y2="442" stroke="#1a1a1a" stroke-width="1"/>
<line x1="244.8" y1="439.7" x2="244.8" y2="442" stroke="#1a1a1a" stroke-width="1"/>
<rect x="68.62" y="435.09" width="4.25" height="4.61" fill="#fff" stroke="#1a1a1a" stroke-width="1.25"/>
<line x1="70.75" y1="435.09" x2="70.75" y2="434.17" stroke="#1a1a1a" stroke-width="1.25"/>
<line x1="69.1" y1="434.17" x2="72.4" y2="434.17" stroke="#1a1a1a" stroke-width="1.25"/>
<rect x="69.39" y="432.23" width="2.4" height="2.4" fill="#1a1a1a"/>
<rect x="69.09" y="435.37" width="2.4" height="2.4" fill="#1a1a1a"/>
<rect x="69.58" y="433.55" width="2.4" height="2.4" fill="#1a1a1a"/>
<rect x="70.88" y="435.1" width="2.4" height="2.4" fill="#1a1a1a"/>
<rect x="70.85" y="433.09" width="2.4" height="2.4" fill="#1a1a1a"/>
<rect x="68.91" y="434.98" width="2.4" height="2.4" fill="#1a1a1a"/>
<rect x="70.32" y="435.16" width="2.4" height="2.4" fill="#1a1a1a"/>
<rect x="68.53" y="434.52" width="2.4" height="2.4" fill="#1a1a1a"/>
<rect x="77.17" y="435.55" width="4.25" height="4.15" fill="#fff" stroke="#dc5656" stroke-width="1.25"/>
<line x1="79.3" y1="435.55" x2="79.3" y2="434.63" stroke="#dc5656" stroke-width="1.25"/>
<line x1="77.65" y1="434.63" x2="80.95" y2="434.63" stroke="#dc5656" stroke-width="1.25"/>
<circle cx="80.43" cy="433.89" r="1.26" fill="#dc5656"/>
<circle cx="78.64" cy="437.03" r="1.26" fill="#dc5656"/>
<circle cx="80.45" cy="436.52" r="1.26" fill="#dc5656"/>
<circle cx="79.85" cy="435.36" r="1.26" fill="#dc5656"/>
<circle cx="78.08" cy="436.69" r="1.26" fill="#dc5656"/>
<circle cx="79.09" cy="435.03" r="1.26" fill="#dc5656"/>
<circle cx="80.51" cy="436.73" r="1.26" fill="#dc5656"/>
<circle cx="80.13" cy="435.18" r="1.26" fill="#dc5656"/>
<rect x="85.83" y="436.47" width="4.25" height="3.23" fill="#fff" stroke="#23238f" stroke-width="1.25"/>
<line x1="87.95" y1="436.47" x2="87.95" y2="435.74" stroke="#23238f" stroke-width="1.25"/>
<line x1="86.3" y1="435.74" x2="89.6" y2="435.74" stroke="#23238f" stroke-width="1.25"/>
<polygon points="88.93,433.59 87.49,436.35 90.37,436.35" fill="#23238f"/>
<polygon points="88.95,436.09 87.51,438.85 90.39,438.85" fill="#23238f"/>
<polygon points="87.51,435.02 86.07,437.78 88.95,437.78" fill="#23238f"/>
<polygon points="89.12,434.8 87.68,437.56 90.56,437.56" fill="#23238f"/>
<polygon points="86.93,435.43 85.49,438.19 88.37,438.19" fill="#23238f"/>
<polygon points="87.23,434.85 85.79,437.61 88.67,437.61" fill="#23238f"/>
<polygon points="87.02,435.78 85.58,438.54 88.46,438.54" fill="#23238f"/>
<polygon points="87.13,435.91 85.69,438.67 88.57,438.67" fill="#23238f"/>
<rect x="94.42" y="436.47" width="4.25" height="3.23" fill="#fff" stroke="#3db54a" stroke-width="1.25"/>
<line x1="96.55" y1="436.47" x2="96.55" y2="435.09" stroke="#3db54a" stroke-width="1.25"/>
<line x1="94.9" y1="435.09" x2="98.2" y2="435.09" stroke="#3db54a" stroke-width="1.25"/>
<polygon points="96.01,435.54 94.57,432.78 97.45,432.78" fill="#3db54a"/>
<polygon points="95.97,440.25 94.53,437.49 97.41,437.49" fill="#3db54a"/>
<polygon points="95.66,438.03 94.22,435.27 97.1,435.27" fill="#3db54a"/>
<polygon points="95.22,438.67 93.78,435.91 96.66,435.91" fill="#3db54a"/>
<polygon points="95.22,439.07 93.78,436.31 96.66,436.31" fill="#3db54a"/>
<polygon points="96.69,437.07 95.25,434.31 98.13,434.31" fill="#3db54a"/>
<polygon points="96.48,439.32 95.04,436.56 97.92,436.56" fill="#3db54a"/>
<polygon points="95.47,436.23 94.03,433.47 96.91,433.47" fill="#3db54a"/>
<rect x="109.03" y="397.29" width="4.25" height="42.41" fill="#fff" stroke="#1a1a1a" stroke-width="1.25"/>
<line x1="111.5" y1="397.29" x2="111.5" y2="389.91" stroke="#1a1a1a" stroke-width="1.25"/>
<line x1="109.5" y1="389.91" x2="112.8" y2="389.91" stroke="#1a1a1a" stroke-width="1.25"/>
<rect x="109.76" y="382.81" width="2.4" height="2.4" fill="#1a1a1a"/>
<rect x="110.87" y="407.89" width="2.4" height="2.4" fill="#1a1a1a"/>
<rect x="109.97" y="398.45" width="2.4" height="2.4" fill="#1a1a1a"/>
<rect x="111.28" y="391.93" width="2.4" height="2.4" fill="#1a1a1a"/>
<rect x="110.86" y="399.57" width="2.4" height="2.4" fill="#1a1a1a"/>
<rect x="110.32" y="391.51" width="2.4" height="2.4" fill="#1a1a1a"/>
<rect x="109.53" y="398.2" width="2.4" height="2.4" fill="#1a1a1a"/>
<rect x="108.93" y="405.95" width="2.4" height="2.4" fill="#1a1a1a"/>
<rect x="117.58" y="398.21" width="4.25" height="41.49" fill="#fff" stroke="#dc5656" stroke-width="1.25"/>
<line x1="119.5" y1="398.21" x2="119.5" y2="392.68" stroke="#dc5656" stroke-width="1.25"/>
<line x1="118.05" y1="392.68" x2="121.35" y2="392.68" stroke="#dc5656" stroke-width="1.25"/>
<circle cx="120.36" cy="388.25" r="1.26" fill="#dc5656"/>
<circle cx="118.77" cy="407.06" r="1.26" fill="#dc5656"/>
<circle cx="120.64" cy="405.11" r="1.26" fill="#dc5656"/>
<circle cx="120.17" cy="392.06" r="1.26" fill="#dc5656"/>
<circle cx="118.99" cy="401.83" r="1.26" fill="#dc5656"/>
<circle cx="119.59" cy="401.64" r="1.26" fill="#dc5656"/>
<circle cx="119.55" cy="403.89" r="1.26" fill="#dc5656"/>
<circle cx="120.97" cy="402.14" r="1.26" fill="#dc5656"/>
<rect x="126.23" y="399.13" width="4.25" height="40.57" fill="#fff" stroke="#23238f" stroke-width="1.25"/>
<line x1="128.5" y1="399.13" x2="128.5" y2="393.6" stroke="#23238f" stroke-width="1.25"/>
<line x1="126.7" y1="393.6" x2="130" y2="393.6" stroke="#23238f" stroke-width="1.25"/>
<polygon points="128.48,387.61 127.04,390.37 129.92,390.37" fill="#23238f"/>
<polygon points="129.63,406.42 128.19,409.18 131.07,409.18" fill="#23238f"/>
<polygon points="127.96,400.73 126.52,403.49 129.4,403.49" fill="#23238f"/>
<polygon points="128.02,405.85 126.58,408.61 129.46,408.61" fill="#23238f"/>
<polygon points="128.36,397.99 126.92,400.75 129.8,400.75" fill="#23238f"/>
<polygon points="128.36,402.53 126.92,405.29 129.8,405.29" fill="#23238f"/>
<polygon points="127.7,405.79 126.26,408.55 129.14,408.55" fill="#23238f"/>
<polygon points="128.07,404.38 126.63,407.14 129.51,407.14" fill="#23238f"/>
<rect x="134.83" y="400.51" width="4.25" height="39.19" fill="#fff" stroke="#3db54a" stroke-width="1.25"/>
<line x1="136.5" y1="400.51" x2="136.5" y2="394.06" stroke="#3db54a" stroke-width="1.25"/>
<line x1="135.3" y1="394.06" x2="138.6" y2="394.06" stroke="#3db54a" stroke-width="1.25"/>
<polygon points="135.64,390.46 134.2,387.7 137.08,387.7" fill="#3db54a"/>
<polygon points="136.22,412.4 134.78,409.64 137.66,409.64" fill="#3db54a"/>
<polygon points="137.03,400.42 135.59,397.66 138.47,397.66" fill="#3db54a"/>
<polygon points="137.38,397.22 135.94,394.46 138.82,394.46" fill="#3db54a"/>
<polygon points="137.99,397.89 136.55,395.13 139.43,395.13" fill="#3db54a"/>
<polygon points="136.47,404.21 135.03,401.45 137.91,401.45" fill="#3db54a"/>
<polygon points="135.99,392.69 134.55,389.93 137.43,389.93" fill="#3db54a"/>
<polygon points="137.34,397.73 135.9,394.97 138.78,394.97" fill="#3db54a"/>
<rect x="149.32" y="359.95" width="4.25" height="79.75" fill="#fff" stroke="#1a1a1a" stroke-width="1.25"/>
<line x1="151.5" y1="359.95" x2="151.5" y2="347.96" stroke="#1a1a1a" stroke-width="1.25"/>
<line x1="149.8" y1="347.96" x2="153.1" y2="347.96" stroke="#1a1a1a" stroke-width="1.25"/>
<rect x="151.17" y="337.17" width="2.4" height="2.4" fill="#1a1a1a"/>
<rect x="150.6" y="377.92" width="2.4" height="2.4" fill="#1a1a1a"/>
<rect x="151.11" y="350.34" width="2.4" height="2.4" fill="#1a1a1a"/>
<rect x="150.32" y="371.72" width="2.4" height="2.4" fill="#1a1a1a"/>
<rect x="151.17" y="358.59" width="2.4" height="2.4" fill="#1a1a1a"/>
<rect x="151.15" y="347.79" width="2.4" height="2.4" fill="#1a1a1a"/>
<rect x="151.33" y="355.72" width="2.4" height="2.4" fill="#1a1a1a"/>
<rect x="150.78" y="352.17" width="2.4" height="2.4" fill="#1a1a1a"/>
<rect x="157.88" y="362.71" width="4.25" height="76.99" fill="#fff" stroke="#dc5656" stroke-width="1.25"/>
<line x1="160.5" y1="362.71" x2="160.5" y2="351.65" stroke="#dc5656" stroke-width="1.25"/>
<line x1="158.35" y1="351.65" x2="161.65" y2="351.65" stroke="#dc5656" stroke-width="1.25"/>
<circle cx="158.71" cy="342.8" r="1.26" fill="#dc5656"/>
<circle cx="159.62" cy="380.42" r="1.26" fill="#dc5656"/>
<circle cx="160.92" cy="375.83" r="1.26" fill="#dc5656"/>
<circle cx="160.35" cy="360.77" r="1.26" fill="#dc5656"/>
<circle cx="160.5" cy="358.52" r="1.26" fill="#dc5656"/>
<circle cx="158.63" cy="363.07" r="1.26" fill="#dc5656"/>
<circle cx="160.68" cy="352.83" r="1.26" fill="#dc5656"/>
<circle cx="160.1" cy="362.61" r="1.26" fill="#dc5656"/>
<rect x="166.52" y="361.33" width="4.25" height="78.37" fill="#fff" stroke="#23238f" stroke-width="1.25"/>
<line x1="168.5" y1="361.33" x2="168.5" y2="352.11" stroke="#23238f" stroke-width="1.25"/>
<line x1="167" y1="352.11" x2="170.3" y2="352.11" stroke="#23238f" stroke-width="1.25"/>
<polygon points="167.46,343.17 166.02,345.93 168.9,345.93" fill="#23238f"/>
<polygon points="167.97,374.52 166.53,377.28 169.41,377.28" fill="#23238f"/>
<polygon points="168.01,371.54 166.57,374.3 169.45,374.3" fill="#23238f"/>
<polygon points="167.84,353.43 166.4,356.19 169.28,356.19" fill="#23238f"/>
<polygon points="169.96,353.14 168.52,355.9 171.4,355.9" fill="#23238f"/>
<polygon points="168.33,359.94 166.89,362.7 169.77,362.7" fill="#23238f"/>
<polygon points="169.16,360.35 167.72,363.11 170.6,363.11" fill="#23238f"/>
<polygon points="168.97,352.39 167.53,355.15 170.41,355.15" fill="#23238f"/>
<rect x="175.12" y="365.48" width="4.25" height="74.22" fill="#fff" stroke="#3db54a" stroke-width="1.25"/>
<line x1="177.5" y1="365.48" x2="177.5" y2="357.18" stroke="#3db54a" stroke-width="1.25"/>
<line x1="175.6" y1="357.18" x2="178.9" y2="357.18" stroke="#3db54a" stroke-width="1.25"/>
<polygon points="176.09,352.1 174.65,349.34 177.53,349.34" fill="#3db54a"/>
<polygon points="176.57,380.32 175.13,377.56 178.01,377.56" fill="#3db54a"/>
<polygon points="176.71,360.98 175.27,358.22 178.15,358.22" fill="#3db54a"/>
<polygon points="175.91,365.35 174.47,362.59 177.35,362.59" fill="#3db54a"/>
<polygon points="176.61,377.98 175.17,375.22 178.05,375.22" fill="#3db54a"/>
<polygon points="177.78,362.76 176.34,360 179.22,360" fill="#3db54a"/>
<polygon points="176.67,362.66 175.23,359.9 178.11,359.9" fill="#3db54a"/>
<polygon points="177.15,366.63 175.71,363.87 178.59,363.87" fill="#3db54a"/>
<rect x="189.62" y="349.34" width="4.25" height="90.36" fill="#fff" stroke="#1a1a1a" stroke-width="1.25"/>
<line x1="191.5" y1="349.34" x2="191.5" y2="341.05" stroke="#1a1a1a" stroke-width="1.25"/>
<line x1="190.1" y1="341.05" x2="193.4" y2="341.05" stroke="#1a1a1a" stroke-width="1.25"/>
<rect x="189.5" y="333.21" width="2.4" height="2.4" fill="#1a1a1a"/>
<rect x="189.72" y="361.42" width="2.4" height="2.4" fill="#1a1a1a"/>
<rect x="191.75" y="336.24" width="2.4" height="2.4" fill="#1a1a1a"/>
<rect x="190.44" y="360.16" width="2.4" height="2.4" fill="#1a1a1a"/>
<rect x="191.84" y="340.18" width="2.4" height="2.4" fill="#1a1a1a"/>
<rect x="189.91" y="349.4" width="2.4" height="2.4" fill="#1a1a1a"/>
<rect x="191.78" y="355.37" width="2.4" height="2.4" fill="#1a1a1a"/>
<rect x="190.77" y="355.35" width="2.4" height="2.4" fill="#1a1a1a"/>
<rect x="198.18" y="353.03" width="4.25" height="86.67" fill="#fff" stroke="#dc5656" stroke-width="1.25"/>
<line x1="200.5" y1="353.03" x2="200.5" y2="342.89" stroke="#dc5656" stroke-width="1.25"/>
<line x1="198.65" y1="342.89" x2="201.95" y2="342.89" stroke="#dc5656" stroke-width="1.25"/>
<circle cx="200.37" cy="334.78" r="1.26" fill="#dc5656"/>
<circle cx="199.29" cy="369.26" r="1.26" fill="#dc5656"/>
<circle cx="200.32" cy="343.29" r="1.26" fill="#dc5656"/>
<circle cx="200.86" cy="341.26" r="1.26" fill="#dc5656"/>
<circle cx="201.39" cy="361.2" r="1.26" fill="#dc5656"/>
<circle cx="198.99" cy="353.45" r="1.26" fill="#dc5656"/>
<circle cx="200.28" cy="368.14" r="1.26" fill="#dc5656"/>
<circle cx="199.76" cy="354.53" r="1.26" fill="#dc5656"/>
<rect x="206.82" y="353.49" width="4.25" height="86.21" fill="#fff" stroke="#23238f" stroke-width="1.25"/>
<line x1="208.5" y1="353.49" x2="208.5" y2="344.27" stroke="#23238f" stroke-width="1.25"/>
<line x1="207.3" y1="344.27" x2="210.6" y2="344.27" stroke="#23238f" stroke-width="1.25"/>
<polygon points="208.52,335.34 207.08,338.1 209.96,338.1" fill="#23238f"/>
<polygon points="209.89,366.69 208.45,369.44 211.33,369.44" fill="#23238f"/>
<polygon points="209.64,365.71 208.2,368.47 211.08,368.47" fill="#23238f"/>
<polygon points="207.91,342.55 206.47,345.31 209.35,345.31" fill="#23238f"/>
<polygon points="209.54,340.14 208.1,342.9 210.98,342.9" fill="#23238f"/>
<polygon points="208.37,340.83 206.93,343.59 209.81,343.59" fill="#23238f"/>
<polygon points="208.66,355.47 207.22,358.23 210.1,358.23" fill="#23238f"/>
<polygon points="209.2,338.14 207.76,340.9 210.64,340.9" fill="#23238f"/>
<rect x="215.43" y="351.19" width="4.25" height="88.51" fill="#fff" stroke="#3db54a" stroke-width="1.25"/>
<line x1="217.5" y1="351.19" x2="217.5" y2="343.81" stroke="#3db54a" stroke-width="1.25"/>
<line x1="215.9" y1="343.81" x2="219.2" y2="343.81" stroke="#3db54a" stroke-width="1.25"/>
<polygon points="217.35,339.47 215.91,336.71 218.79,336.71" fill="#3db54a"/>
<polygon points="216.31,364.55 214.87,361.79 217.75,361.79" fill="#3db54a"/>
<polygon points="218.47,361.56 217.03,358.8 219.91,358.8" fill="#3db54a"/>
<polygon points="218.75,357.49 217.31,354.73 220.19,354.73" fill="#3db54a"/>
<polygon points="216.91,358.29 215.47,355.53 218.35,355.53" fill="#3db54a"/>
<polygon points="216.7,352.51 215.26,349.75 218.14,349.75" fill="#3db54a"/>
<polygon points="218.8,355.55 217.36,352.79 220.24,352.79" fill="#3db54a"/>
<polygon points="218.41,344.24 216.97,341.48 219.85,341.48" fill="#3db54a"/>
<rect x="229.93" y="341.97" width="4.25" height="97.73" fill="#fff" stroke="#1a1a1a" stroke-width="1.25"/>
<line x1="232.5" y1="341.97" x2="232.5" y2="329.98" stroke="#1a1a1a" stroke-width="1.25"/>
<line x1="230.4" y1="329.98" x2="233.7" y2="329.98" stroke="#1a1a1a" stroke-width="1.25"/>
<rect x="231.99" y="319.19" width="2.4" height="2.4" fill="#1a1a1a"/>
<rect x="230.99" y="359.95" width="2.4" height="2.4" fill="#1a1a1a"/>
<rect x="229.61" y="332.87" width="2.4" height="2.4" fill="#1a1a1a"/>
<rect x="230.71" y="332.41" width="2.4" height="2.4" fill="#1a1a1a"/>
<rect x="231.25" y="331.68" width="2.4" height="2.4" fill="#1a1a1a"/>
<rect x="229.61" y="348.46" width="2.4" height="2.4" fill="#1a1a1a"/>
<rect x="229.83" y="325.42" width="2.4" height="2.4" fill="#1a1a1a"/>
<rect x="230.42" y="341.77" width="2.4" height="2.4" fill="#1a1a1a"/>
<rect x="238.48" y="344.27" width="4.25" height="95.43" fill="#fff" stroke="#dc5656" stroke-width="1.25"/>
<line x1="240.5" y1="344.27" x2="240.5" y2="335.05" stroke="#dc5656" stroke-width="1.25"/>
<line x1="238.95" y1="335.05" x2="242.25" y2="335.05" stroke="#dc5656" stroke-width="1.25"/>
<circle cx="241.26" cy="327.68" r="1.26" fill="#dc5656"/>
<circle cx="239.94" cy="359.02" r="1.26" fill="#dc5656"/>
<circle cx="240.05" cy="339.96" r="1.26" fill="#dc5656"/>
<circle cx="240.31" cy="342.69" r="1.26" fill="#dc5656"/>
<circle cx="239.67" cy="353.47" r="1.26" fill="#dc5656"/>
<circle cx="241.72" cy="352.35" r="1.26" fill="#dc5656"/>
<circle cx="239.83" cy="344.35" r="1.26" fill="#dc5656"/>
<circle cx="241.97" cy="333.04" r="1.26" fill="#dc5656"/>
<rect x="247.12" y="350.45" width="4.25" height="89.25" fill="#fff" stroke="#23238f" stroke-width="1.25"/>
<line x1="249.5" y1="350.45" x2="249.5" y2="339.39" stroke="#23238f" stroke-width="1.25"/>
<line x1="247.6" y1="339.39" x2="250.9" y2="339.39" stroke="#23238f" stroke-width="1.25"/>
<polygon points="248.26,328.98 246.82,331.74 249.7,331.74" fill="#23238f"/>
<polygon points="248.12,366.59 246.68,369.35 249.56,369.35" fill="#23238f"/>
<polygon points="248.13,354.14 246.69,356.9 249.57,356.9" fill="#23238f"/>
<polygon points="248.59,357.55 247.15,360.31 250.03,360.31" fill="#23238f"/>
<polygon points="250.31,346.58 248.87,349.34 251.75,349.34" fill="#23238f"/>
<polygon points="249.01,340.6 247.57,343.36 250.45,343.36" fill="#23238f"/>
<polygon points="249.32,351.75 247.88,354.51 250.76,354.51" fill="#23238f"/>
<polygon points="248.81,352.98 247.37,355.74 250.25,355.74" fill="#23238f"/>
<rect x="255.73" y="349.99" width="4.25" height="89.71" fill="#fff" stroke="#3db54a" stroke-width="1.25"/>
<line x1="257.5" y1="349.99" x2="257.5" y2="341.69" stroke="#3db54a" stroke-width="1.25"/>
<line x1="256.2" y1="341.69" x2="259.5" y2="341.69" stroke="#3db54a" stroke-width="1.25"/>
<polygon points="257.24,336.61 255.8,333.85 258.68,333.85" fill="#3db54a"/>
<polygon points="256.82,364.83 255.38,362.07 258.26,362.07" fill="#3db54a"/>
<polygon points="258.21,351.46 256.77,348.7 259.65,348.7" fill="#3db54a"/>
<polygon points="257.07,342.52 255.63,339.76 258.51,339.76" fill="#3db54a"/>
<polygon points="257.16,357.25 255.72,354.49 258.6,354.49" fill="#3db54a"/>
<polygon points="257.7,354.04 256.26,351.28 259.14,351.28" fill="#3db54a"/>
<polygon points="258.81,340.25 257.37,337.49 260.25,337.49" fill="#3db54a"/>
<polygon points="256.53,342.27 255.09,339.51 257.97,339.51" fill="#3db54a"/>
<text x="83.2" y="452.2" font-size="8.8" font-weight="bold" text-anchor="middle" textLength="34.9" lengthAdjust="spacingAndGlyphs">baseline</text>
<text x="123.9" y="452.2" font-size="8.8" font-weight="bold" text-anchor="middle" textLength="10.6" lengthAdjust="spacingAndGlyphs">3d</text>
<text x="164.2" y="452.2" font-size="8.8" font-weight="bold" text-anchor="middle" textLength="10.6" lengthAdjust="spacingAndGlyphs">5d</text>
<text x="204.5" y="452.2" font-size="8.8" font-weight="bold" text-anchor="middle" textLength="10.6" lengthAdjust="spacingAndGlyphs">7d</text>
<text x="244.8" y="452.2" font-size="8.8" font-weight="bold" text-anchor="middle" textLength="10.6" lengthAdjust="spacingAndGlyphs">9d</text>
<line x1="108.4" y1="454.5" x2="261.8" y2="454.5" stroke="#1a1a1a" stroke-width="1"/>
<text x="184.6" y="465" font-size="8.8" font-weight="bold" text-anchor="middle" textLength="119.5" lengthAdjust="spacingAndGlyphs">Time after DNFB intervention</text>
<text x="41.6" y="366.3" font-size="11.5" text-anchor="middle" textLength="71.5" lengthAdjust="spacingAndGlyphs" transform="rotate(-90 41.6 366.3)">Scratch bouts</text>
<text x="294.5" y="255.7" font-size="28" font-weight="bold" fill="#000">D</text>
<rect x="348.55" y="252.06" width="2.9" height="2.9" fill="#1a1a1a"/>
<text x="358.5" y="257.4" font-size="10.8" textLength="64" lengthAdjust="spacingAndGlyphs">DNFB+Vehicle</text>
<circle cx="350" cy="265.51" r="1.52" fill="#dc5656"/>
<text x="358.5" y="269.4" font-size="10.8" textLength="119" lengthAdjust="spacingAndGlyphs">DNFB+SRT1720 (i.t., 1 μg)</text>
<polygon points="350,275.83 348.26,279.16 351.74,279.16" fill="#23238f"/>
<text x="358.5" y="281.6" font-size="10.8" textLength="119" lengthAdjust="spacingAndGlyphs">DNFB+SRT1720 (i.t., 5 μg)</text>
<polygon points="350,291.9 348.26,288.56 351.74,288.56" fill="#3db54a"/>
<text x="358.5" y="293.9" font-size="10.8" textLength="124.5" lengthAdjust="spacingAndGlyphs">DNFB+SRT1720 (i.t., 10 μg)</text>
<line x1="339.5" y1="300" x2="339.5" y2="438.8" stroke="#1a1a1a" stroke-width="1"/>
<line x1="337" y1="438.3" x2="339.3" y2="438.3" stroke="#1a1a1a" stroke-width="1"/>
<text x="336" y="441.25" font-size="8.2" font-weight="bold" text-anchor="end" textLength="4" lengthAdjust="spacingAndGlyphs">0</text>
<line x1="337" y1="392.2" x2="339.3" y2="392.2" stroke="#1a1a1a" stroke-width="1"/>
<text x="336" y="395.15" font-size="8.2" font-weight="bold" text-anchor="end" textLength="8" lengthAdjust="spacingAndGlyphs">50</text>
<line x1="337" y1="346.1" x2="339.3" y2="346.1" stroke="#1a1a1a" stroke-width="1"/>
<text x="336" y="349.05" font-size="8.2" font-weight="bold" text-anchor="end" textLength="12" lengthAdjust="spacingAndGlyphs">100</text>
<line x1="337" y1="300" x2="339.3" y2="300" stroke="#1a1a1a" stroke-width="1"/>
<text x="336" y="302.95" font-size="8.2" font-weight="bold" text-anchor="end" textLength="12" lengthAdjust="spacingAndGlyphs">150</text>
<line x1="339.3" y1="438.5" x2="541.3" y2="438.5" stroke="#1a1a1a" stroke-width="1"/>
<line x1="359.5" y1="438.3" x2="359.5" y2="440.6" stroke="#1a1a1a" stroke-width="1"/>
<line x1="400" y1="438.3" x2="400" y2="440.6" stroke="#1a1a1a" stroke-width="1"/>
<line x1="440.4" y1="438.3" x2="440.4" y2="440.6" stroke="#1a1a1a" stroke-width="1"/>
<line x1="480.8" y1="438.3" x2="480.8" y2="440.6" stroke="#1a1a1a" stroke-width="1"/>
<line x1="521.1" y1="438.3" x2="521.1" y2="440.6" stroke="#1a1a1a" stroke-width="1"/>
<rect x="344.43" y="435.07" width="4.25" height="3.23" fill="#fff" stroke="#1a1a1a" stroke-width="1.25"/>
<line x1="346.55" y1="435.07" x2="346.55" y2="433.97" stroke="#1a1a1a" stroke-width="1.25"/>
<line x1="344.9" y1="433.97" x2="348.2" y2="433.97" stroke="#1a1a1a" stroke-width="1.25"/>
<rect x="345.93" y="431.88" width="2.4" height="2.4" fill="#1a1a1a"/>
<rect x="345.28" y="435.64" width="2.4" height="2.4" fill="#1a1a1a"/>
<rect x="343.98" y="433.58" width="2.4" height="2.4" fill="#1a1a1a"/>
<rect x="346.52" y="434.23" width="2.4" height="2.4" fill="#1a1a1a"/>
<rect x="346.33" y="432.79" width="2.4" height="2.4" fill="#1a1a1a"/>
<rect x="344.66" y="432.31" width="2.4" height="2.4" fill="#1a1a1a"/>
<rect x="344.4" y="435.17" width="2.4" height="2.4" fill="#1a1a1a"/>
<rect x="345.85" y="433.8" width="2.4" height="2.4" fill="#1a1a1a"/>
<rect x="352.98" y="434.8" width="4.25" height="3.5" fill="#fff" stroke="#dc5656" stroke-width="1.25"/>
<line x1="355.1" y1="434.8" x2="355.1" y2="433.87" stroke="#dc5656" stroke-width="1.25"/>
<line x1="353.45" y1="433.87" x2="356.75" y2="433.87" stroke="#dc5656" stroke-width="1.25"/>
<circle cx="355.71" cy="433.14" r="1.26" fill="#dc5656"/>
<circle cx="355.83" cy="436.27" r="1.26" fill="#dc5656"/>
<circle cx="355.24" cy="434.91" r="1.26" fill="#dc5656"/>
<circle cx="355.88" cy="436.07" r="1.26" fill="#dc5656"/>
<circle cx="356.25" cy="435.54" r="1.26" fill="#dc5656"/>
<circle cx="354.56" cy="434.39" r="1.26" fill="#dc5656"/>
<circle cx="354.42" cy="435.83" r="1.26" fill="#dc5656"/>
<circle cx="355.65" cy="434.42" r="1.26" fill="#dc5656"/>
<rect x="361.62" y="435.72" width="4.25" height="2.58" fill="#fff" stroke="#23238f" stroke-width="1.25"/>
<line x1="363.75" y1="435.72" x2="363.75" y2="434.98" stroke="#23238f" stroke-width="1.25"/>
<line x1="362.1" y1="434.98" x2="365.4" y2="434.98" stroke="#23238f" stroke-width="1.25"/>
<polygon points="362.57,432.83 361.13,435.59 364.01,435.59" fill="#23238f"/>
<polygon points="363.98,435.34 362.54,438.1 365.42,438.1" fill="#23238f"/>
<polygon points="362.99,434.41 361.55,437.17 364.43,437.17" fill="#23238f"/>
<polygon points="362.4,433.93 360.96,436.69 363.84,436.69" fill="#23238f"/>
<polygon points="363.64,434.6 362.2,437.36 365.08,437.36" fill="#23238f"/>
<polygon points="364.15,433.14 362.71,435.9 365.59,435.9" fill="#23238f"/>
<polygon points="363.68,433.31 362.24,436.07 365.12,436.07" fill="#23238f"/>
<polygon points="363.05,434.75 361.61,437.51 364.49,437.51" fill="#23238f"/>
<rect x="370.23" y="434.61" width="4.25" height="3.69" fill="#fff" stroke="#3db54a" stroke-width="1.25"/>
<line x1="372.35" y1="434.61" x2="372.35" y2="433.51" stroke="#3db54a" stroke-width="1.25"/>
<line x1="370.7" y1="433.51" x2="374" y2="433.51" stroke="#3db54a" stroke-width="1.25"/>
<polygon points="372.91,434.18 371.47,431.42 374.35,431.42" fill="#3db54a"/>
<polygon points="371.03,437.94 369.59,435.18 372.47,435.18" fill="#3db54a"/>
<polygon points="372.83,436.18 371.39,433.42 374.27,433.42" fill="#3db54a"/>
<polygon points="371.68,436.44 370.24,433.68 373.12,433.68" fill="#3db54a"/>
<polygon points="373.52,435.62 372.08,432.86 374.96,432.86" fill="#3db54a"/>
<polygon points="371.07,437.08 369.63,434.32 372.51,434.32" fill="#3db54a"/>
<polygon points="372.13,436.71 370.69,433.95 373.57,433.95" fill="#3db54a"/>
<polygon points="371.52,435.57 370.08,432.81 372.96,432.81" fill="#3db54a"/>
<rect x="384.93" y="395.61" width="4.25" height="42.69" fill="#fff" stroke="#1a1a1a" stroke-width="1.25"/>
<line x1="387.5" y1="395.61" x2="387.5" y2="390.08" stroke="#1a1a1a" stroke-width="1.25"/>
<line x1="385.4" y1="390.08" x2="388.7" y2="390.08" stroke="#1a1a1a" stroke-width="1.25"/>
<rect x="386.51" y="384.45" width="2.4" height="2.4" fill="#1a1a1a"/>
<rect x="385.04" y="403.26" width="2.4" height="2.4" fill="#1a1a1a"/>
<rect x="385.33" y="386.61" width="2.4" height="2.4" fill="#1a1a1a"/>
<rect x="385.11" y="389.1" width="2.4" height="2.4" fill="#1a1a1a"/>
<rect x="386.57" y="399.03" width="2.4" height="2.4" fill="#1a1a1a"/>
<rect x="387.09" y="397.81" width="2.4" height="2.4" fill="#1a1a1a"/>
<rect x="384.99" y="394.48" width="2.4" height="2.4" fill="#1a1a1a"/>
<rect x="385.62" y="399" width="2.4" height="2.4" fill="#1a1a1a"/>
<rect x="393.48" y="399.3" width="4.25" height="39" fill="#fff" stroke="#dc5656" stroke-width="1.25"/>
<line x1="395.5" y1="399.3" x2="395.5" y2="393.77" stroke="#dc5656" stroke-width="1.25"/>
<line x1="393.95" y1="393.77" x2="397.25" y2="393.77" stroke="#dc5656" stroke-width="1.25"/>
<circle cx="396.83" cy="389.34" r="1.26" fill="#dc5656"/>
<circle cx="395.31" cy="408.15" r="1.26" fill="#dc5656"/>
<circle cx="396.9" cy="404.06" r="1.26" fill="#dc5656"/>
<circle cx="394.37" cy="405.24" r="1.26" fill="#dc5656"/>
<circle cx="395.31" cy="406.6" r="1.26" fill="#dc5656"/>
<circle cx="396.65" cy="392.69" r="1.26" fill="#dc5656"/>
<circle cx="396.97" cy="395.44" r="1.26" fill="#dc5656"/>
<circle cx="395.13" cy="392.14" r="1.26" fill="#dc5656"/>
<rect x="402.12" y="412.12" width="4.25" height="26.18" fill="#fff" stroke="#23238f" stroke-width="1.25"/>
<line x1="404.5" y1="412.12" x2="404.5" y2="404.74" stroke="#23238f" stroke-width="1.25"/>
<line x1="402.6" y1="404.74" x2="405.9" y2="404.74" stroke="#23238f" stroke-width="1.25"/>
<polygon points="405.45,397.28 404.01,400.04 406.89,400.04" fill="#23238f"/>
<polygon points="402.96,422.36 401.52,425.12 404.4,425.12" fill="#23238f"/>
<polygon points="403.92,406.92 402.48,409.68 405.36,409.68" fill="#23238f"/>
<polygon points="403.79,413.35 402.35,416.11 405.23,416.11" fill="#23238f"/>
<polygon points="402.88,417.87 401.44,420.63 404.32,420.63" fill="#23238f"/>
<polygon points="403.84,415.43 402.4,418.19 405.28,418.19" fill="#23238f"/>
<polygon points="403.22,400.48 401.78,403.24 404.66,403.24" fill="#23238f"/>
<polygon points="403.45,400.28 402.01,403.04 404.89,403.04" fill="#23238f"/>
<rect x="410.73" y="418.94" width="4.25" height="19.36" fill="#fff" stroke="#3db54a" stroke-width="1.25"/>
<line x1="412.5" y1="418.94" x2="412.5" y2="414.33" stroke="#3db54a" stroke-width="1.25"/>
<line x1="411.2" y1="414.33" x2="414.5" y2="414.33" stroke="#3db54a" stroke-width="1.25"/>
<polygon points="413.73,412.2 412.29,409.44 415.17,409.44" fill="#3db54a"/>
<polygon points="412.66,427.87 411.22,425.11 414.1,425.11" fill="#3db54a"/>
<polygon points="412.78,426.73 411.34,423.97 414.22,423.97" fill="#3db54a"/>
<polygon points="414,422.26 412.56,419.5 415.44,419.5" fill="#3db54a"/>
<polygon points="412.48,424.74 411.04,421.98 413.92,421.98" fill="#3db54a"/>
<polygon points="411.56,415.01 410.12,412.25 413,412.25" fill="#3db54a"/>
<polygon points="413.71,421.73 412.27,418.97 415.15,418.97" fill="#3db54a"/>
<polygon points="411.59,416.81 410.15,414.05 413.03,414.05" fill="#3db54a"/>
<rect x="425.32" y="357.62" width="4.25" height="80.68" fill="#fff" stroke="#1a1a1a" stroke-width="1.25"/>
<line x1="427.5" y1="357.62" x2="427.5" y2="350.25" stroke="#1a1a1a" stroke-width="1.25"/>
<line x1="425.8" y1="350.25" x2="429.1" y2="350.25" stroke="#1a1a1a" stroke-width="1.25"/>
<rect x="425.05" y="343.15" width="2.4" height="2.4" fill="#1a1a1a"/>
<rect x="425.58" y="368.23" width="2.4" height="2.4" fill="#1a1a1a"/>
<rect x="427.35" y="350.95" width="2.4" height="2.4" fill="#1a1a1a"/>
<rect x="425.62" y="359.99" width="2.4" height="2.4" fill="#1a1a1a"/>
<rect x="426.57" y="346.3" width="2.4" height="2.4" fill="#1a1a1a"/>
<rect x="426.85" y="361.69" width="2.4" height="2.4" fill="#1a1a1a"/>
<rect x="425.63" y="360.49" width="2.4" height="2.4" fill="#1a1a1a"/>
<rect x="426.95" y="367.41" width="2.4" height="2.4" fill="#1a1a1a"/>
<rect x="433.88" y="358.55" width="4.25" height="79.75" fill="#fff" stroke="#dc5656" stroke-width="1.25"/>
<line x1="436.5" y1="358.55" x2="436.5" y2="349.33" stroke="#dc5656" stroke-width="1.25"/>
<line x1="434.35" y1="349.33" x2="437.65" y2="349.33" stroke="#dc5656" stroke-width="1.25"/>
<circle cx="436.37" cy="341.95" r="1.26" fill="#dc5656"/>
<circle cx="434.69" cy="373.3" r="1.26" fill="#dc5656"/>
<circle cx="435.93" cy="365.91" r="1.26" fill="#dc5656"/>
<circle cx="437.25" cy="345.91" r="1.26" fill="#dc5656"/>
<circle cx="435.32" cy="361.69" r="1.26" fill="#dc5656"/>
<circle cx="435.98" cy="360.48" r="1.26" fill="#dc5656"/>
<circle cx="435.13" cy="346.71" r="1.26" fill="#dc5656"/>
<circle cx="436.66" cy="350.18" r="1.26" fill="#dc5656"/>
<rect x="442.52" y="370.99" width="4.25" height="67.31" fill="#fff" stroke="#23238f" stroke-width="1.25"/>
<line x1="444.5" y1="370.99" x2="444.5" y2="360.85" stroke="#23238f" stroke-width="1.25"/>
<line x1="443" y1="360.85" x2="446.3" y2="360.85" stroke="#23238f" stroke-width="1.25"/>
<polygon points="445.4,351.18 443.96,353.94 446.84,353.94" fill="#23238f"/>
<polygon points="444.18,385.66 442.74,388.42 445.62,388.42" fill="#23238f"/>
<polygon points="444.27,374.92 442.83,377.68 445.71,377.68" fill="#23238f"/>
<polygon points="443.49,360.85 442.05,363.61 444.93,363.61" fill="#23238f"/>
<polygon points="445.35,378.64 443.91,381.4 446.79,381.4" fill="#23238f"/>
<polygon points="443.45,377.12 442.01,379.88 444.89,379.88" fill="#23238f"/>
<polygon points="444.79,383.62 443.35,386.38 446.23,386.38" fill="#23238f"/>
<polygon points="445.97,374.74 444.53,377.5 447.41,377.5" fill="#23238f"/>
<rect x="451.12" y="381.6" width="4.25" height="56.7" fill="#fff" stroke="#3db54a" stroke-width="1.25"/>
<line x1="453.5" y1="381.6" x2="453.5" y2="367.77" stroke="#3db54a" stroke-width="1.25"/>
<line x1="451.6" y1="367.77" x2="454.9" y2="367.77" stroke="#3db54a" stroke-width="1.25"/>
<polygon points="454.59,358.26 453.15,355.5 456.03,355.5" fill="#3db54a"/>
<polygon points="452.11,405.29 450.67,402.53 453.55,402.53" fill="#3db54a"/>
<polygon points="453.25,399.9 451.81,397.14 454.69,397.14" fill="#3db54a"/>
<polygon points="453.1,374.45 451.66,371.69 454.54,371.69" fill="#3db54a"/>
<polygon points="453.02,394.19 451.58,391.43 454.46,391.43" fill="#3db54a"/>
<polygon points="453.73,378.17 452.29,375.41 455.17,375.41" fill="#3db54a"/>
<polygon points="454.2,372.87 452.76,370.11 455.64,370.11" fill="#3db54a"/>
<polygon points="452.21,376.33 450.77,373.57 453.65,373.57" fill="#3db54a"/>
<rect x="465.73" y="344.72" width="4.25" height="93.58" fill="#fff" stroke="#1a1a1a" stroke-width="1.25"/>
<line x1="467.5" y1="344.72" x2="467.5" y2="338.26" stroke="#1a1a1a" stroke-width="1.25"/>
<line x1="466.2" y1="338.26" x2="469.5" y2="338.26" stroke="#1a1a1a" stroke-width="1.25"/>
<rect x="466.08" y="331.9" width="2.4" height="2.4" fill="#1a1a1a"/>
<rect x="466.3" y="353.84" width="2.4" height="2.4" fill="#1a1a1a"/>
<rect x="465.82" y="338.91" width="2.4" height="2.4" fill="#1a1a1a"/>
<rect x="465.95" y="348.41" width="2.4" height="2.4" fill="#1a1a1a"/>
<rect x="467.71" y="350.23" width="2.4" height="2.4" fill="#1a1a1a"/>
<rect x="466.17" y="342" width="2.4" height="2.4" fill="#1a1a1a"/>
<rect x="468" y="345.53" width="2.4" height="2.4" fill="#1a1a1a"/>
<rect x="465.91" y="343.38" width="2.4" height="2.4" fill="#1a1a1a"/>
<rect x="474.28" y="349.05" width="4.25" height="89.25" fill="#fff" stroke="#dc5656" stroke-width="1.25"/>
<line x1="476.5" y1="349.05" x2="476.5" y2="341.67" stroke="#dc5656" stroke-width="1.25"/>
<line x1="474.75" y1="341.67" x2="478.05" y2="341.67" stroke="#dc5656" stroke-width="1.25"/>
<circle cx="476.82" cy="335.77" r="1.26" fill="#dc5656"/>
<circle cx="475.31" cy="360.85" r="1.26" fill="#dc5656"/>
<circle cx="477.28" cy="349.61" r="1.26" fill="#dc5656"/>
<circle cx="477.54" cy="341.51" r="1.26" fill="#dc5656"/>
<circle cx="475.83" cy="359.22" r="1.26" fill="#dc5656"/>
<circle cx="475.55" cy="357.48" r="1.26" fill="#dc5656"/>
<circle cx="476.63" cy="338.58" r="1.26" fill="#dc5656"/>
<circle cx="476.05" cy="339.53" r="1.26" fill="#dc5656"/>
<rect x="482.93" y="355.32" width="4.25" height="82.98" fill="#fff" stroke="#23238f" stroke-width="1.25"/>
<line x1="485.5" y1="355.32" x2="485.5" y2="346.1" stroke="#23238f" stroke-width="1.25"/>
<line x1="483.4" y1="346.1" x2="486.7" y2="346.1" stroke="#23238f" stroke-width="1.25"/>
<polygon points="484.91,337.16 483.47,339.92 486.35,339.92" fill="#23238f"/>
<polygon points="485.81,368.51 484.37,371.27 487.25,371.27" fill="#23238f"/>
<polygon points="483.97,341.43 482.53,344.19 485.41,344.19" fill="#23238f"/>
<polygon points="485.38,351.1 483.94,353.86 486.82,353.86" fill="#23238f"/>
<polygon points="484.69,361.57 483.25,364.33 486.13,364.33" fill="#23238f"/>
<polygon points="484.24,363.68 482.8,366.44 485.68,366.44" fill="#23238f"/>
<polygon points="485.32,360.54 483.88,363.3 486.76,363.3" fill="#23238f"/>
<polygon points="484.23,349.57 482.79,352.33 485.67,352.33" fill="#23238f"/>
<rect x="491.53" y="356.24" width="4.25" height="82.06" fill="#fff" stroke="#3db54a" stroke-width="1.25"/>
<line x1="493.5" y1="356.24" x2="493.5" y2="348.87" stroke="#3db54a" stroke-width="1.25"/>
<line x1="492" y1="348.87" x2="495.3" y2="348.87" stroke="#3db54a" stroke-width="1.25"/>
<polygon points="493.17,344.53 491.73,341.77 494.61,341.77" fill="#3db54a"/>
<polygon points="492.78,369.6 491.34,366.84 494.22,366.84" fill="#3db54a"/>
<polygon points="492.83,361.96 491.39,359.2 494.27,359.2" fill="#3db54a"/>
<polygon points="493.78,351.27 492.34,348.51 495.22,348.51" fill="#3db54a"/>
<polygon points="492.55,367.47 491.11,364.71 493.99,364.71" fill="#3db54a"/>
<polygon points="493.79,360.12 492.35,357.36 495.23,357.36" fill="#3db54a"/>
<polygon points="492.53,354.72 491.09,351.96 493.97,351.96" fill="#3db54a"/>
<polygon points="494.19,365.24 492.75,362.48 495.63,362.48" fill="#3db54a"/>
<rect x="506.02" y="344.26" width="4.25" height="94.04" fill="#fff" stroke="#1a1a1a" stroke-width="1.25"/>
<line x1="508.5" y1="344.26" x2="508.5" y2="332.27" stroke="#1a1a1a" stroke-width="1.25"/>
<line x1="506.5" y1="332.27" x2="509.8" y2="332.27" stroke="#1a1a1a" stroke-width="1.25"/>
<rect x="506.35" y="321.48" width="2.4" height="2.4" fill="#1a1a1a"/>
<rect x="508.2" y="362.23" width="2.4" height="2.4" fill="#1a1a1a"/>
<rect x="507.13" y="349.8" width="2.4" height="2.4" fill="#1a1a1a"/>
<rect x="506.72" y="348.19" width="2.4" height="2.4" fill="#1a1a1a"/>
<rect x="508.32" y="329.96" width="2.4" height="2.4" fill="#1a1a1a"/>
<rect x="506.12" y="347.95" width="2.4" height="2.4" fill="#1a1a1a"/>
<rect x="506.14" y="334.86" width="2.4" height="2.4" fill="#1a1a1a"/>
<rect x="508.05" y="360.82" width="2.4" height="2.4" fill="#1a1a1a"/>
<rect x="514.57" y="343.52" width="4.25" height="94.78" fill="#fff" stroke="#dc5656" stroke-width="1.25"/>
<line x1="516.5" y1="343.52" x2="516.5" y2="333.38" stroke="#dc5656" stroke-width="1.25"/>
<line x1="515.05" y1="333.38" x2="518.35" y2="333.38" stroke="#dc5656" stroke-width="1.25"/>
<circle cx="517.58" cy="325.26" r="1.26" fill="#dc5656"/>
<circle cx="517.75" cy="359.75" r="1.26" fill="#dc5656"/>
<circle cx="515.77" cy="344.71" r="1.26" fill="#dc5656"/>
<circle cx="516.84" cy="358.28" r="1.26" fill="#dc5656"/>
<circle cx="517.83" cy="339.24" r="1.26" fill="#dc5656"/>
<circle cx="517.04" cy="356.02" r="1.26" fill="#dc5656"/>
<circle cx="516.71" cy="347.45" r="1.26" fill="#dc5656"/>
<circle cx="516.1" cy="354.29" r="1.26" fill="#dc5656"/>
<rect x="523.23" y="346.47" width="4.25" height="91.83" fill="#fff" stroke="#23238f" stroke-width="1.25"/>
<line x1="525.5" y1="346.47" x2="525.5" y2="335.4" stroke="#23238f" stroke-width="1.25"/>
<line x1="523.7" y1="335.4" x2="527" y2="335.4" stroke="#23238f" stroke-width="1.25"/>
<polygon points="526.52,324.99 525.08,327.75 527.96,327.75" fill="#23238f"/>
<polygon points="525.32,362.61 523.88,365.37 526.76,365.37" fill="#23238f"/>
<polygon points="526.63,334.79 525.19,337.55 528.07,337.55" fill="#23238f"/>
<polygon points="524.32,354.95 522.88,357.71 525.76,357.71" fill="#23238f"/>
<polygon points="526.66,330.2 525.22,332.96 528.1,332.96" fill="#23238f"/>
<polygon points="524.12,345.48 522.68,348.24 525.56,348.24" fill="#23238f"/>
<polygon points="525.04,330.76 523.6,333.52 526.48,333.52" fill="#23238f"/>
<polygon points="525.68,331.49 524.24,334.25 527.12,334.25" fill="#23238f"/>
<rect x="531.82" y="350.06" width="4.25" height="88.24" fill="#fff" stroke="#3db54a" stroke-width="1.25"/>
<line x1="533.5" y1="350.06" x2="533.5" y2="340.84" stroke="#3db54a" stroke-width="1.25"/>
<line x1="532.3" y1="340.84" x2="535.6" y2="340.84" stroke="#3db54a" stroke-width="1.25"/>
<polygon points="533.02,335.03 531.58,332.27 534.46,332.27" fill="#3db54a"/>
<polygon points="533.19,366.38 531.75,363.62 534.63,363.62" fill="#3db54a"/>
<polygon points="534.9,354.27 533.46,351.51 536.34,351.51" fill="#3db54a"/>
<polygon points="533.08,342.52 531.64,339.76 534.52,339.76" fill="#3db54a"/>
<polygon points="533.67,359.42 532.23,356.66 535.11,356.66" fill="#3db54a"/>
<polygon points="533.63,351.13 532.19,348.37 535.07,348.37" fill="#3db54a"/>
<polygon points="533.25,362.05 531.81,359.29 534.69,359.29" fill="#3db54a"/>
<polygon points="535.04,345.4 533.6,342.64 536.48,342.64" fill="#3db54a"/>
<text x="359.4" y="451" font-size="8.8" font-weight="bold" text-anchor="middle" textLength="34.9" lengthAdjust="spacingAndGlyphs">baseline</text>
<text x="400" y="451" font-size="8.8" font-weight="bold" text-anchor="middle" textLength="10.6" lengthAdjust="spacingAndGlyphs">3d</text>
<text x="440.4" y="451" font-size="8.8" font-weight="bold" text-anchor="middle" textLength="10.6" lengthAdjust="spacingAndGlyphs">5d</text>
<text x="480.8" y="451" font-size="8.8" font-weight="bold" text-anchor="middle" textLength="10.6" lengthAdjust="spacingAndGlyphs">7d</text>
<text x="521.1" y="451" font-size="8.8" font-weight="bold" text-anchor="middle" textLength="10.6" lengthAdjust="spacingAndGlyphs">9d</text>
<line x1="385.2" y1="454.5" x2="537.6" y2="454.5" stroke="#1a1a1a" stroke-width="1"/>
<text x="461" y="463.8" font-size="8.8" font-weight="bold" text-anchor="middle" textLength="119.5" lengthAdjust="spacingAndGlyphs">Time after DNFB intervention</text>
<text x="320.6" y="365.9" font-size="11.5" text-anchor="middle" textLength="73" lengthAdjust="spacingAndGlyphs" transform="rotate(-90 320.6 365.9)">Scratch bouts</text>
<polyline points="387.5,362.5 387.5,359.5 412.5,359.5 412.5,407.5" fill="none" stroke="#111" stroke-width="1.1"/>
<text x="384.25" y="356.1" font-size="7.2" fill="#222" textLength="27" lengthAdjust="spacingAndGlyphs">p&lt;0.0001</text>
<polyline points="387.5,377.5 387.5,375.5 404.5,375.5 404.5,398.5" fill="none" stroke="#111" stroke-width="1.1"/>
<text x="384.25" y="371.7" font-size="7.2" fill="#222" textLength="27" lengthAdjust="spacingAndGlyphs">p=0.0007</text>
<polyline points="427.5,319.5 427.5,317.5 453.5,317.5 453.5,363.5" fill="none" stroke="#111" stroke-width="1.1"/>
<text x="424.65" y="314.2" font-size="7.2" fill="#222" textLength="27" lengthAdjust="spacingAndGlyphs">p&lt;0.0001</text>
<polyline points="427.5,333.5 427.5,330.5 444.5,330.5 444.5,347.5" fill="none" stroke="#111" stroke-width="1.1"/>
<text x="424.65" y="328" font-size="7.2" fill="#222" textLength="27" lengthAdjust="spacingAndGlyphs">p=0.0084</text>
<text x="567.5" y="259" font-size="28" font-weight="bold" fill="#000">E</text>
<rect x="622.75" y="251.46" width="2.9" height="2.9" fill="#1a1a1a"/>
<text x="632.4" y="256.8" font-size="10.8" textLength="31.5" lengthAdjust="spacingAndGlyphs">Vehicle</text>
<circle cx="624.2" cy="265.11" r="1.52" fill="#dc5656"/>
<text x="632.4" y="269" font-size="10.8" textLength="86.5" lengthAdjust="spacingAndGlyphs">SRT1720 (i.t., 1 μg)</text>
<polygon points="624.2,275.93 622.46,279.26 625.94,279.26" fill="#23238f"/>
<text x="632.4" y="281.7" font-size="10.8" textLength="86.5" lengthAdjust="spacingAndGlyphs">SRT1720 (i.t., 5 μg)</text>
<polygon points="624.2,292.7 622.46,289.36 625.94,289.36" fill="#3db54a"/>
<text x="632.4" y="294.7" font-size="10.8" textLength="92.5" lengthAdjust="spacingAndGlyphs">SRT1720 (i.t., 10 μg)</text>
<text x="680" y="318.5" font-size="9.2" font-weight="bold" text-anchor="middle" textLength="69" lengthAdjust="spacingAndGlyphs">Motor function</text>
<text x="679" y="329.3" font-size="8.2" text-anchor="middle" textLength="47" lengthAdjust="spacingAndGlyphs">Rotarod test</text>
<line x1="613.5" y1="335" x2="613.5" y2="438.9" stroke="#1a1a1a" stroke-width="1"/>
<line x1="611.2" y1="438.4" x2="613.5" y2="438.4" stroke="#1a1a1a" stroke-width="1"/>
<text x="610.2" y="441.35" font-size="8.2" font-weight="bold" text-anchor="end" textLength="8" lengthAdjust="spacingAndGlyphs">70</text>
<line x1="611.2" y1="417.72" x2="613.5" y2="417.72" stroke="#1a1a1a" stroke-width="1"/>
<text x="610.2" y="420.67" font-size="8.2" font-weight="bold" text-anchor="end" textLength="8" lengthAdjust="spacingAndGlyphs">80</text>
<line x1="611.2" y1="397.04" x2="613.5" y2="397.04" stroke="#1a1a1a" stroke-width="1"/>
<text x="610.2" y="399.99" font-size="8.2" font-weight="bold" text-anchor="end" textLength="8" lengthAdjust="spacingAndGlyphs">90</text>
<line x1="611.2" y1="376.36" x2="613.5" y2="376.36" stroke="#1a1a1a" stroke-width="1"/>
<text x="610.2" y="379.31" font-size="8.2" font-weight="bold" text-anchor="end" textLength="12" lengthAdjust="spacingAndGlyphs">100</text>
<line x1="611.2" y1="355.68" x2="613.5" y2="355.68" stroke="#1a1a1a" stroke-width="1"/>
<text x="610.2" y="358.63" font-size="8.2" font-weight="bold" text-anchor="end" textLength="12" lengthAdjust="spacingAndGlyphs">110</text>
<line x1="611.2" y1="335" x2="613.5" y2="335" stroke="#1a1a1a" stroke-width="1"/>
<text x="610.2" y="337.95" font-size="8.2" font-weight="bold" text-anchor="end" textLength="12" lengthAdjust="spacingAndGlyphs">120</text>
<line x1="613.5" y1="438.5" x2="754.3" y2="438.5" stroke="#1a1a1a" stroke-width="1"/>
<line x1="636.5" y1="438.4" x2="636.5" y2="440.7" stroke="#1a1a1a" stroke-width="1"/>
<line x1="683" y1="438.4" x2="683" y2="440.7" stroke="#1a1a1a" stroke-width="1"/>
<line x1="729.4" y1="438.4" x2="729.4" y2="440.7" stroke="#1a1a1a" stroke-width="1"/>
<rect x="618.92" y="375.74" width="5.55" height="62.66" fill="#fff" stroke="#1a1a1a" stroke-width="1.25"/>
<line x1="621.5" y1="375.74" x2="621.5" y2="354.03" stroke="#1a1a1a" stroke-width="1.25"/>
<line x1="619.66" y1="354.5" x2="623.74" y2="354.5" stroke="#1a1a1a" stroke-width="1.25"/>
<rect x="620.66" y="335.4" width="2.5" height="2.5" fill="#1a1a1a"/>
<rect x="618.88" y="409.23" width="2.5" height="2.5" fill="#1a1a1a"/>
<rect x="619.15" y="352.46" width="2.5" height="2.5" fill="#1a1a1a"/>
<rect x="620.62" y="368.01" width="2.5" height="2.5" fill="#1a1a1a"/>
<rect x="619.79" y="366.21" width="2.5" height="2.5" fill="#1a1a1a"/>
<rect x="620.73" y="379.7" width="2.5" height="2.5" fill="#1a1a1a"/>
<rect x="628.82" y="380.5" width="5.55" height="57.9" fill="#fff" stroke="#dc5656" stroke-width="1.25"/>
<line x1="631.5" y1="380.5" x2="631.5" y2="370.16" stroke="#dc5656" stroke-width="1.25"/>
<line x1="629.56" y1="370.5" x2="633.64" y2="370.5" stroke="#dc5656" stroke-width="1.25"/>
<circle cx="632.14" cy="361.88" r="1.31" fill="#dc5656"/>
<circle cx="631.39" cy="397.04" r="1.31" fill="#dc5656"/>
<circle cx="632" cy="395.28" r="1.31" fill="#dc5656"/>
<circle cx="630.7" cy="380.82" r="1.31" fill="#dc5656"/>
<circle cx="632.55" cy="372.32" r="1.31" fill="#dc5656"/>
<circle cx="630.51" cy="381.79" r="1.31" fill="#dc5656"/>
<rect x="638.62" y="376.36" width="5.55" height="62.04" fill="#fff" stroke="#23238f" stroke-width="1.25"/>
<line x1="641.5" y1="376.36" x2="641.5" y2="358.78" stroke="#23238f" stroke-width="1.25"/>
<line x1="639.36" y1="358.5" x2="643.44" y2="358.5" stroke="#23238f" stroke-width="1.25"/>
<polygon points="640.06,343.09 638.56,345.97 641.56,345.97" fill="#23238f"/>
<polygon points="641.16,402.86 639.66,405.73 642.66,405.73" fill="#23238f"/>
<polygon points="641.2,396.27 639.7,399.14 642.7,399.14" fill="#23238f"/>
<polygon points="639.84,374.2 638.34,377.07 641.34,377.07" fill="#23238f"/>
<polygon points="639.98,367.54 638.48,370.42 641.48,370.42" fill="#23238f"/>
<polygon points="642.34,362.42 640.84,365.3 643.84,365.3" fill="#23238f"/>
<rect x="648.62" y="379.88" width="5.55" height="58.52" fill="#fff" stroke="#3db54a" stroke-width="1.25"/>
<line x1="651.5" y1="379.88" x2="651.5" y2="364.37" stroke="#3db54a" stroke-width="1.25"/>
<line x1="649.36" y1="364.5" x2="653.44" y2="364.5" stroke="#3db54a" stroke-width="1.25"/>
<polygon points="649.88,353.58 648.38,350.71 651.38,350.71" fill="#3db54a"/>
<polygon points="650.98,406.32 649.48,403.44 652.48,403.44" fill="#3db54a"/>
<polygon points="650.16,360.52 648.66,357.65 651.66,357.65" fill="#3db54a"/>
<polygon points="653.09,364.89 651.59,362.01 654.59,362.01" fill="#3db54a"/>
<polygon points="652.47,370.7 650.97,367.83 653.97,367.83" fill="#3db54a"/>
<polygon points="653.04,395.75 651.54,392.88 654.54,392.88" fill="#3db54a"/>
<rect x="665.42" y="369.33" width="5.55" height="69.07" fill="#fff" stroke="#1a1a1a" stroke-width="1.25"/>
<line x1="668.5" y1="369.33" x2="668.5" y2="353.82" stroke="#1a1a1a" stroke-width="1.25"/>
<line x1="666.16" y1="353.5" x2="670.24" y2="353.5" stroke="#1a1a1a" stroke-width="1.25"/>
<rect x="668.5" y="340.16" width="2.5" height="2.5" fill="#1a1a1a"/>
<rect x="665.81" y="392.89" width="2.5" height="2.5" fill="#1a1a1a"/>
<rect x="668.41" y="354.66" width="2.5" height="2.5" fill="#1a1a1a"/>
<rect x="666.44" y="388.3" width="2.5" height="2.5" fill="#1a1a1a"/>
<rect x="665.79" y="356.16" width="2.5" height="2.5" fill="#1a1a1a"/>
<rect x="666.18" y="349.63" width="2.5" height="2.5" fill="#1a1a1a"/>
<rect x="675.32" y="373.88" width="5.55" height="64.52" fill="#fff" stroke="#dc5656" stroke-width="1.25"/>
<line x1="678.5" y1="373.88" x2="678.5" y2="358.37" stroke="#dc5656" stroke-width="1.25"/>
<line x1="676.06" y1="358.5" x2="680.14" y2="358.5" stroke="#dc5656" stroke-width="1.25"/>
<circle cx="676.89" cy="345.96" r="1.31" fill="#dc5656"/>
<circle cx="679.53" cy="398.69" r="1.31" fill="#dc5656"/>
<circle cx="677.29" cy="387.45" r="1.31" fill="#dc5656"/>
<circle cx="677.48" cy="373.6" r="1.31" fill="#dc5656"/>
<circle cx="677.02" cy="395.43" r="1.31" fill="#dc5656"/>
<circle cx="679.58" cy="389.64" r="1.31" fill="#dc5656"/>
<rect x="685.12" y="375.95" width="5.55" height="62.45" fill="#fff" stroke="#23238f" stroke-width="1.25"/>
<line x1="687.5" y1="375.95" x2="687.5" y2="354.23" stroke="#23238f" stroke-width="1.25"/>
<line x1="685.86" y1="354.5" x2="689.94" y2="354.5" stroke="#23238f" stroke-width="1.25"/>
<polygon points="689.24,335.24 687.74,338.11 690.74,338.11" fill="#23238f"/>
<polygon points="688.87,409.06 687.37,411.94 690.37,411.94" fill="#23238f"/>
<polygon points="688,399.4 686.5,402.27 689.5,402.27" fill="#23238f"/>
<polygon points="687.42,365.44 685.92,368.32 688.92,368.32" fill="#23238f"/>
<polygon points="688.09,350.03 686.59,352.9 689.59,352.9" fill="#23238f"/>
<polygon points="689.2,369.11 687.7,371.98 690.7,371.98" fill="#23238f"/>
<rect x="695.12" y="383.39" width="5.55" height="55.01" fill="#fff" stroke="#3db54a" stroke-width="1.25"/>
<line x1="697.5" y1="383.39" x2="697.5" y2="373.05" stroke="#3db54a" stroke-width="1.25"/>
<line x1="695.86" y1="373.5" x2="699.94" y2="373.5" stroke="#3db54a" stroke-width="1.25"/>
<polygon points="699.58,366.4 698.08,363.53 701.08,363.53" fill="#3db54a"/>
<polygon points="697.54,401.56 696.04,398.69 699.04,398.69" fill="#3db54a"/>
<polygon points="697.1,375.78 695.6,372.91 698.6,372.91" fill="#3db54a"/>
<polygon points="698.16,369.8 696.66,366.93 699.66,366.93" fill="#3db54a"/>
<polygon points="698.8,389.35 697.3,386.48 700.3,386.48" fill="#3db54a"/>
<polygon points="696.8,386.81 695.3,383.93 698.3,383.93" fill="#3db54a"/>
<rect x="711.83" y="375.95" width="5.55" height="62.45" fill="#fff" stroke="#1a1a1a" stroke-width="1.25"/>
<line x1="714.5" y1="375.95" x2="714.5" y2="357.33" stroke="#1a1a1a" stroke-width="1.25"/>
<line x1="712.56" y1="357.5" x2="716.64" y2="357.5" stroke="#1a1a1a" stroke-width="1.25"/>
<rect x="711.81" y="341.19" width="2.5" height="2.5" fill="#1a1a1a"/>
<rect x="712.51" y="404.48" width="2.5" height="2.5" fill="#1a1a1a"/>
<rect x="715" y="366.92" width="2.5" height="2.5" fill="#1a1a1a"/>
<rect x="713.91" y="369.9" width="2.5" height="2.5" fill="#1a1a1a"/>
<rect x="711.66" y="385.16" width="2.5" height="2.5" fill="#1a1a1a"/>
<rect x="712.16" y="400.73" width="2.5" height="2.5" fill="#1a1a1a"/>
<rect x="721.73" y="384.22" width="5.55" height="54.18" fill="#fff" stroke="#dc5656" stroke-width="1.25"/>
<line x1="724.5" y1="384.22" x2="724.5" y2="367.67" stroke="#dc5656" stroke-width="1.25"/>
<line x1="722.46" y1="367.5" x2="726.54" y2="367.5" stroke="#dc5656" stroke-width="1.25"/>
<circle cx="724.27" cy="354.44" r="1.31" fill="#dc5656"/>
<circle cx="725.84" cy="410.69" r="1.31" fill="#dc5656"/>
<circle cx="723.57" cy="402.48" r="1.31" fill="#dc5656"/>
<circle cx="722.88" cy="376.62" r="1.31" fill="#dc5656"/>
<circle cx="724.01" cy="408.9" r="1.31" fill="#dc5656"/>
<circle cx="724.01" cy="403.76" r="1.31" fill="#dc5656"/>
<rect x="731.53" y="384.22" width="5.55" height="54.18" fill="#fff" stroke="#23238f" stroke-width="1.25"/>
<line x1="734.5" y1="384.22" x2="734.5" y2="368.71" stroke="#23238f" stroke-width="1.25"/>
<line x1="732.26" y1="368.5" x2="736.34" y2="368.5" stroke="#23238f" stroke-width="1.25"/>
<polygon points="734.58,354.68 733.08,357.55 736.08,357.55" fill="#23238f"/>
<polygon points="733.29,407.41 731.79,410.28 734.79,410.28" fill="#23238f"/>
<polygon points="734.21,376.83 732.71,379.7 735.71,379.7" fill="#23238f"/>
<polygon points="735.78,399.59 734.28,402.46 737.28,402.46" fill="#23238f"/>
<polygon points="733.11,394.52 731.61,397.4 734.61,397.4" fill="#23238f"/>
<polygon points="734.77,401.4 733.27,404.28 736.27,404.28" fill="#23238f"/>
<rect x="741.53" y="381.53" width="5.55" height="56.87" fill="#fff" stroke="#3db54a" stroke-width="1.25"/>
<line x1="744.5" y1="381.53" x2="744.5" y2="370.16" stroke="#3db54a" stroke-width="1.25"/>
<line x1="742.26" y1="370.5" x2="746.34" y2="370.5" stroke="#3db54a" stroke-width="1.25"/>
<polygon points="745.26,362.68 743.76,359.81 746.76,359.81" fill="#3db54a"/>
<polygon points="743.5,401.35 742,398.48 745,398.48" fill="#3db54a"/>
<polygon points="744.79,399.82 743.29,396.95 746.29,396.95" fill="#3db54a"/>
<polygon points="743.79,381.03 742.29,378.15 745.29,378.15" fill="#3db54a"/>
<polygon points="744.11,378.19 742.61,375.31 745.61,375.31" fill="#3db54a"/>
<polygon points="745.09,368.24 743.59,365.36 746.59,365.36" fill="#3db54a"/>
<text x="636.9" y="451.2" font-size="8.8" font-weight="bold" text-anchor="middle" textLength="34.9" lengthAdjust="spacingAndGlyphs">baseline</text>
<text x="683.3" y="451.2" font-size="8.8" font-weight="bold" text-anchor="middle" textLength="10.6" lengthAdjust="spacingAndGlyphs">1d</text>
<text x="729.8" y="451.2" font-size="8.8" font-weight="bold" text-anchor="middle" textLength="10.6" lengthAdjust="spacingAndGlyphs">3d</text>
<line x1="662" y1="453.5" x2="753.2" y2="453.5" stroke="#1a1a1a" stroke-width="1"/>
<text x="708.6" y="464.4" font-size="8.8" font-weight="bold" text-anchor="middle" textLength="97" lengthAdjust="spacingAndGlyphs">Time after i.t. injections</text>
<text x="592.8" y="385.6" font-size="11.5" text-anchor="middle" textLength="58.6" lengthAdjust="spacingAndGlyphs" transform="rotate(-90 592.8 385.6)">Latency (s)</text>
<text x="10.5" y="513.75" font-size="29" font-weight="bold" fill="#000">F</text>
<text x="227.3" y="531.5" font-size="10.3" font-weight="bold" text-anchor="middle" textLength="142.3" lengthAdjust="spacingAndGlyphs">Time after DNFB intervention</text>
<line x1="131" y1="534.5" x2="329.4" y2="534.5" stroke="#1a1a1a" stroke-width="1.2"/>
<text x="152.5" y="547.2" font-size="10.3" font-weight="bold" text-anchor="middle" textLength="12" lengthAdjust="spacingAndGlyphs">3d</text>
<line x1="131" y1="551.5" x2="174" y2="551.5" stroke="#1a1a1a" stroke-width="1.2"/>
<text x="205" y="547.2" font-size="10.3" font-weight="bold" text-anchor="middle" textLength="12" lengthAdjust="spacingAndGlyphs">5d</text>
<line x1="181.3" y1="551.5" x2="225" y2="551.5" stroke="#1a1a1a" stroke-width="1.2"/>
<text x="253.5" y="547.2" font-size="10.3" font-weight="bold" text-anchor="middle" textLength="12" lengthAdjust="spacingAndGlyphs">7d</text>
<line x1="230.8" y1="551.5" x2="275.7" y2="551.5" stroke="#1a1a1a" stroke-width="1.2"/>
<text x="305.6" y="547.2" font-size="10.3" font-weight="bold" text-anchor="middle" textLength="12" lengthAdjust="spacingAndGlyphs">9d</text>
<line x1="282.6" y1="551.5" x2="328.6" y2="551.5" stroke="#1a1a1a" stroke-width="1.2"/>
<text x="47.5" y="562.6" font-size="11" textLength="26" lengthAdjust="spacingAndGlyphs">Naive</text>
<text x="47.5" y="575.6" font-size="11" textLength="33" lengthAdjust="spacingAndGlyphs">Control</text>
<text x="47.5" y="587.6" font-size="11" textLength="27.5" lengthAdjust="spacingAndGlyphs">DNFB</text>
<line x1="107.1" y1="558.5" x2="112.9" y2="558.5" stroke="#111" stroke-width="1.45"/>
<line x1="110.5" y1="555.9" x2="110.5" y2="561.7" stroke="#111" stroke-width="1.45"/>
<line x1="134.1" y1="570.5" x2="139.9" y2="570.5" stroke="#111" stroke-width="1.45"/>
<line x1="137.5" y1="567.6" x2="137.5" y2="573.4" stroke="#111" stroke-width="1.45"/>
<line x1="189.1" y1="570.5" x2="194.9" y2="570.5" stroke="#111" stroke-width="1.45"/>
<line x1="192.5" y1="567.6" x2="192.5" y2="573.4" stroke="#111" stroke-width="1.45"/>
<line x1="237.9" y1="570.5" x2="243.7" y2="570.5" stroke="#111" stroke-width="1.45"/>
<line x1="240.5" y1="567.6" x2="240.5" y2="573.4" stroke="#111" stroke-width="1.45"/>
<line x1="292.1" y1="570.5" x2="297.9" y2="570.5" stroke="#111" stroke-width="1.45"/>
<line x1="295.5" y1="567.6" x2="295.5" y2="573.4" stroke="#111" stroke-width="1.45"/>
<line x1="160.1" y1="583.5" x2="165.9" y2="583.5" stroke="#111" stroke-width="1.45"/>
<line x1="163.5" y1="580.1" x2="163.5" y2="585.9" stroke="#111" stroke-width="1.45"/>
<line x1="214.6" y1="583.5" x2="220.4" y2="583.5" stroke="#111" stroke-width="1.45"/>
<line x1="217.5" y1="580.1" x2="217.5" y2="585.9" stroke="#111" stroke-width="1.45"/>
<line x1="263.1" y1="583.5" x2="268.9" y2="583.5" stroke="#111" stroke-width="1.45"/>
<line x1="266.5" y1="580.1" x2="266.5" y2="585.9" stroke="#111" stroke-width="1.45"/>
<line x1="318.1" y1="583.5" x2="323.9" y2="583.5" stroke="#111" stroke-width="1.45"/>
<line x1="321.5" y1="580.1" x2="321.5" y2="585.9" stroke="#111" stroke-width="1.45"/>
<rect x="96.3" y="592.3" width="241.8" height="33.6" fill="#d3d3d3"/>
<rect x="125.5" y="592.3" width="4" height="33.6" fill="#dadada" filter="url(#bl2)"/>
<rect x="151.2" y="592.3" width="4" height="33.6" fill="#dadada" filter="url(#bl2)"/>
<rect x="176.9" y="592.3" width="4" height="33.6" fill="#dadada" filter="url(#bl2)"/>
<rect x="202.6" y="592.3" width="4" height="33.6" fill="#dadada" filter="url(#bl2)"/>
<rect x="228.3" y="592.3" width="4" height="33.6" fill="#dadada" filter="url(#bl2)"/>
<rect x="254" y="592.3" width="4" height="33.6" fill="#dadada" filter="url(#bl2)"/>
<rect x="279.7" y="592.3" width="4" height="33.6" fill="#dadada" filter="url(#bl2)"/>
<rect x="305.4" y="592.3" width="4" height="33.6" fill="#dadada" filter="url(#bl2)"/>
<path d="M106,609.5 Q113.8,609.2 121.6,609.5 Q122.8,609.5 122.8,610.7 L122.8,610.7 Q122.8,611.9 121.6,611.9 Q113.8,612.4 106,611.9 Q104.8,611.9 104.8,610.7 L104.8,610.7 Q104.8,609.5 106,609.5 Z" fill="#000" fill-opacity="0.48" filter="url(#bl)"/>
<path d="M131.4,609.2 Q139.2,608.9 147,609.2 Q148.2,609.2 148.2,610.4 L148.2,610.4 Q148.2,611.6 147,611.6 Q139.2,612.1 131.4,611.6 Q130.2,611.6 130.2,610.4 L130.2,610.4 Q130.2,609.2 131.4,609.2 Z" fill="#000" fill-opacity="0.48" filter="url(#bl)" transform="rotate(-1 139.2 610.4)"/>
<path d="M156.95,607.4 Q165.3,607.1 173.65,607.4 Q175.55,607.4 175.55,609.3 L175.55,609.3 Q175.55,611.2 173.65,611.2 Q165.3,611.7 156.95,611.2 Q155.05,611.2 155.05,609.3 L155.05,609.3 Q155.05,607.4 156.95,607.4 Z" fill="#000" fill-opacity="0.92" filter="url(#bl)" transform="rotate(-1.5 165.3 609.3)"/>
<path d="M183.3,608.2 Q191,607.9 198.7,608.2 Q200,608.2 200,609.5 L200,609.5 Q200,610.8 198.7,610.8 Q191,611.3 183.3,610.8 Q182,610.8 182,609.5 L182,609.5 Q182,608.2 183.3,608.2 Z" fill="#000" fill-opacity="0.45" filter="url(#bl)"/>
<path d="M208.3,607 Q216.5,606.7 224.7,607 Q227,607 227,609.3 L227,609.3 Q227,611.6 224.7,611.6 Q216.5,612.1 208.3,611.6 Q206,611.6 206,609.3 L206,609.3 Q206,607 208.3,607 Z" fill="#000" fill-opacity="1" filter="url(#bl)"/>
<path d="M235,609.7 Q241.8,609.4 248.6,609.7 Q249.8,609.7 249.8,610.9 L249.8,610.9 Q249.8,612.1 248.6,612.1 Q241.8,612.6 235,612.1 Q233.8,612.1 233.8,610.9 L233.8,610.9 Q233.8,609.7 235,609.7 Z" fill="#000" fill-opacity="0.5" filter="url(#bl)"/>
<path d="M260.75,608.8 Q268.5,608.5 276.25,608.8 Q278.75,608.8 278.75,611.3 L278.75,611.3 Q278.75,613.8 276.25,613.8 Q268.5,614.3 260.75,613.8 Q258.25,613.8 258.25,611.3 L258.25,611.3 Q258.25,608.8 260.75,608.8 Z" fill="#000" fill-opacity="1" filter="url(#bl)"/>
<path d="M285.6,609.4 Q293.1,609.1 300.6,609.4 Q301.6,609.4 301.6,610.4 L301.6,610.4 Q301.6,611.4 300.6,611.4 Q293.1,611.9 285.6,611.4 Q284.6,611.4 284.6,610.4 L284.6,610.4 Q284.6,609.4 285.6,609.4 Z" fill="#000" fill-opacity="0.22" filter="url(#bl)"/>
<path d="M312.95,606.9 Q321,606.6 329.05,606.9 Q330.75,606.9 330.75,608.6 L330.75,608.6 Q330.75,610.3 329.05,610.3 Q321,610.8 312.95,610.3 Q311.25,610.3 311.25,608.6 L311.25,608.6 Q311.25,606.9 312.95,606.9 Z" fill="#000" fill-opacity="0.85" filter="url(#bl)" transform="rotate(-7 321 608.6)"/>
<rect x="96.3" y="633.1" width="241.8" height="32.4" fill="#e6e6e6"/>
<rect x="125.5" y="633.1" width="4" height="32.4" fill="#f3f3f3" filter="url(#bl2)"/>
<rect x="151.2" y="633.1" width="4" height="32.4" fill="#f3f3f3" filter="url(#bl2)"/>
<rect x="176.9" y="633.1" width="4" height="32.4" fill="#f3f3f3" filter="url(#bl2)"/>
<rect x="202.6" y="633.1" width="4" height="32.4" fill="#f3f3f3" filter="url(#bl2)"/>
<rect x="228.3" y="633.1" width="4" height="32.4" fill="#f3f3f3" filter="url(#bl2)"/>
<rect x="254" y="633.1" width="4" height="32.4" fill="#f3f3f3" filter="url(#bl2)"/>
<rect x="279.7" y="633.1" width="4" height="32.4" fill="#f3f3f3" filter="url(#bl2)"/>
<rect x="305.4" y="633.1" width="4" height="32.4" fill="#f3f3f3" filter="url(#bl2)"/>
<rect x="104.2" y="655" width="21" height="8" fill="#000" fill-opacity="0.1" filter="url(#bl2)"/>
<path d="M106,646.1 Q114.7,645.8 123.4,646.1 Q126,646.1 126,648.7 L126,653.9 Q126,656.5 123.4,656.5 Q114.7,658.1 106,656.5 Q103.4,656.5 103.4,653.9 L103.4,648.7 Q103.4,646.1 106,646.1 Z" fill="#000" fill-opacity="1" filter="url(#bl)"/>
<rect x="129.7" y="655" width="21" height="8" fill="#000" fill-opacity="0.1" filter="url(#bl2)"/>
<path d="M131.5,646.1 Q140.2,645.8 148.9,646.1 Q151.5,646.1 151.5,648.7 L151.5,653.9 Q151.5,656.5 148.9,656.5 Q140.2,658.1 131.5,656.5 Q128.9,656.5 128.9,653.9 L128.9,648.7 Q128.9,646.1 131.5,646.1 Z" fill="#000" fill-opacity="1" filter="url(#bl)"/>
<rect x="155.6" y="655" width="21" height="8" fill="#000" fill-opacity="0.1" filter="url(#bl2)"/>
<path d="M157.4,646.1 Q166.1,645.8 174.8,646.1 Q177.4,646.1 177.4,648.7 L177.4,653.9 Q177.4,656.5 174.8,656.5 Q166.1,658.1 157.4,656.5 Q154.8,656.5 154.8,653.9 L154.8,648.7 Q154.8,646.1 157.4,646.1 Z" fill="#000" fill-opacity="1" filter="url(#bl)"/>
<rect x="181.3" y="655" width="21" height="8" fill="#000" fill-opacity="0.1" filter="url(#bl2)"/>
<path d="M183.1,646.1 Q191.8,645.8 200.5,646.1 Q203.1,646.1 203.1,648.7 L203.1,653.9 Q203.1,656.5 200.5,656.5 Q191.8,658.1 183.1,656.5 Q180.5,656.5 180.5,653.9 L180.5,648.7 Q180.5,646.1 183.1,646.1 Z" fill="#000" fill-opacity="1" filter="url(#bl)"/>
<rect x="207.1" y="655" width="21" height="8" fill="#000" fill-opacity="0.1" filter="url(#bl2)"/>
<path d="M208.9,646.1 Q217.6,645.8 226.3,646.1 Q228.9,646.1 228.9,648.7 L228.9,653.9 Q228.9,656.5 226.3,656.5 Q217.6,658.1 208.9,656.5 Q206.3,656.5 206.3,653.9 L206.3,648.7 Q206.3,646.1 208.9,646.1 Z" fill="#000" fill-opacity="1" filter="url(#bl)"/>
<rect x="232.8" y="655" width="21" height="8" fill="#000" fill-opacity="0.1" filter="url(#bl2)"/>
<path d="M234.6,646.1 Q243.3,645.8 252,646.1 Q254.6,646.1 254.6,648.7 L254.6,653.9 Q254.6,656.5 252,656.5 Q243.3,658.1 234.6,656.5 Q232,656.5 232,653.9 L232,648.7 Q232,646.1 234.6,646.1 Z" fill="#000" fill-opacity="1" filter="url(#bl)"/>
<rect x="258.3" y="655" width="21" height="8" fill="#000" fill-opacity="0.1" filter="url(#bl2)"/>
<path d="M260.1,646.1 Q268.8,645.8 277.5,646.1 Q280.1,646.1 280.1,648.7 L280.1,653.9 Q280.1,656.5 277.5,656.5 Q268.8,658.1 260.1,656.5 Q257.5,656.5 257.5,653.9 L257.5,648.7 Q257.5,646.1 260.1,646.1 Z" fill="#000" fill-opacity="1" filter="url(#bl)"/>
<rect x="284.5" y="655" width="21" height="8" fill="#000" fill-opacity="0.1" filter="url(#bl2)"/>
<path d="M286.3,646.1 Q295,645.8 303.7,646.1 Q306.3,646.1 306.3,648.7 L306.3,653.9 Q306.3,656.5 303.7,656.5 Q295,658.1 286.3,656.5 Q283.7,656.5 283.7,653.9 L283.7,648.7 Q283.7,646.1 286.3,646.1 Z" fill="#000" fill-opacity="1" filter="url(#bl)"/>
<rect x="309.9" y="655" width="21" height="8" fill="#000" fill-opacity="0.1" filter="url(#bl2)"/>
<path d="M311.7,646.1 Q320.4,645.8 329.1,646.1 Q331.7,646.1 331.7,648.7 L331.7,653.9 Q331.7,656.5 329.1,656.5 Q320.4,658.1 311.7,656.5 Q309.1,656.5 309.1,653.9 L309.1,648.7 Q309.1,646.1 311.7,646.1 Z" fill="#000" fill-opacity="1" filter="url(#bl)"/>
<rect x="96.3" y="671.2" width="241.8" height="32.6" fill="#dedede"/>
<rect x="125.5" y="671.2" width="4" height="32.6" fill="#e4e4e4" filter="url(#bl2)"/>
<rect x="151.2" y="671.2" width="4" height="32.6" fill="#e4e4e4" filter="url(#bl2)"/>
<rect x="176.9" y="671.2" width="4" height="32.6" fill="#e4e4e4" filter="url(#bl2)"/>
<rect x="202.6" y="671.2" width="4" height="32.6" fill="#e4e4e4" filter="url(#bl2)"/>
<rect x="228.3" y="671.2" width="4" height="32.6" fill="#e4e4e4" filter="url(#bl2)"/>
<rect x="254" y="671.2" width="4" height="32.6" fill="#e4e4e4" filter="url(#bl2)"/>
<rect x="279.7" y="671.2" width="4" height="32.6" fill="#e4e4e4" filter="url(#bl2)"/>
<rect x="305.4" y="671.2" width="4" height="32.6" fill="#e4e4e4" filter="url(#bl2)"/>
<path d="M108.55,683.3 Q116.7,683 124.85,683.3 Q127.45,683.3 127.45,685.9 L127.45,687.9 Q127.45,690.5 124.85,690.5 Q116.7,691.1 108.55,690.5 Q105.95,690.5 105.95,687.9 L105.95,685.9 Q105.95,683.3 108.55,683.3 Z" fill="#000" fill-opacity="1" filter="url(#bl)"/>
<path d="M133.85,684 Q142,683.7 150.15,684 Q152.75,684 152.75,686.6 L152.75,688.6 Q152.75,691.2 150.15,691.2 Q142,691.8 133.85,691.2 Q131.25,691.2 131.25,688.6 L131.25,686.6 Q131.25,684 133.85,684 Z" fill="#000" fill-opacity="1" filter="url(#bl)"/>
<path d="M159.05,684 Q167.2,683.7 175.35,684 Q177.95,684 177.95,686.6 L177.95,688.6 Q177.95,691.2 175.35,691.2 Q167.2,691.8 159.05,691.2 Q156.45,691.2 156.45,688.6 L156.45,686.6 Q156.45,684 159.05,684 Z" fill="#000" fill-opacity="1" filter="url(#bl)"/>
<path d="M184.15,683.5 Q192.3,683.2 200.45,683.5 Q203.05,683.5 203.05,686.1 L203.05,688.1 Q203.05,690.7 200.45,690.7 Q192.3,691.3 184.15,690.7 Q181.55,690.7 181.55,688.1 L181.55,686.1 Q181.55,683.5 184.15,683.5 Z" fill="#000" fill-opacity="1" filter="url(#bl)"/>
<path d="M209.35,683.3 Q217.5,683 225.65,683.3 Q228.25,683.3 228.25,685.9 L228.25,687.9 Q228.25,690.5 225.65,690.5 Q217.5,691.1 209.35,690.5 Q206.75,690.5 206.75,687.9 L206.75,685.9 Q206.75,683.3 209.35,683.3 Z" fill="#000" fill-opacity="1" filter="url(#bl)"/>
<path d="M234.75,682.7 Q242.9,682.4 251.05,682.7 Q253.65,682.7 253.65,685.3 L253.65,687.3 Q253.65,689.9 251.05,689.9 Q242.9,690.5 234.75,689.9 Q232.15,689.9 232.15,687.3 L232.15,685.3 Q232.15,682.7 234.75,682.7 Z" fill="#000" fill-opacity="1" filter="url(#bl)"/>
<path d="M259.95,683 Q268.1,682.7 276.25,683 Q278.85,683 278.85,685.6 L278.85,687.6 Q278.85,690.2 276.25,690.2 Q268.1,690.8 259.95,690.2 Q257.35,690.2 257.35,687.6 L257.35,685.6 Q257.35,683 259.95,683 Z" fill="#000" fill-opacity="1" filter="url(#bl)"/>
<path d="M286.05,682.7 Q294.2,682.4 302.35,682.7 Q304.95,682.7 304.95,685.3 L304.95,687.3 Q304.95,689.9 302.35,689.9 Q294.2,690.5 286.05,689.9 Q283.45,689.9 283.45,687.3 L283.45,685.3 Q283.45,682.7 286.05,682.7 Z" fill="#000" fill-opacity="1" filter="url(#bl)"/>
<path d="M312.05,682.3 Q320.2,682 328.35,682.3 Q330.95,682.3 330.95,684.9 L330.95,686.9 Q330.95,689.5 328.35,689.5 Q320.2,690.1 312.05,689.5 Q309.45,689.5 309.45,686.9 L309.45,684.9 Q309.45,682.3 312.05,682.3 Z" fill="#000" fill-opacity="1" filter="url(#bl)"/>
<text x="29.7" y="610.1" font-size="11" font-weight="bold" fill="#111" textLength="51.4" lengthAdjust="spacingAndGlyphs">Acetylated</text>
<text x="29.7" y="623" font-size="11" font-weight="bold" fill="#111" textLength="45.7" lengthAdjust="spacingAndGlyphs">β-catenin</text>
<text x="29.7" y="654.5" font-size="11" font-weight="bold" fill="#111" textLength="45.7" lengthAdjust="spacingAndGlyphs">β-catenin</text>
<text x="29.7" y="691" font-size="11" font-weight="bold" fill="#111" textLength="33.2" lengthAdjust="spacingAndGlyphs">β-actin</text>
<text x="347.2" y="613.7" font-size="10.5" font-weight="bold" fill="#111" textLength="32.9" lengthAdjust="spacingAndGlyphs">92 kDa</text>
<text x="347.2" y="653.4" font-size="10.5" font-weight="bold" fill="#111" textLength="32.9" lengthAdjust="spacingAndGlyphs">92 kDa</text>
<text x="347.2" y="690.1" font-size="10.5" font-weight="bold" fill="#111" textLength="32.9" lengthAdjust="spacingAndGlyphs">42 kDa</text>
<text x="397.2" y="513.9" font-size="27" font-weight="bold" fill="#000">G</text>
<rect x="467.55" y="508.55" width="2.9" height="2.9" fill="#1a1a1a"/>
<text x="477.75" y="513.6" font-size="10" textLength="40.5" lengthAdjust="spacingAndGlyphs">β-catenin</text>
<circle cx="547" cy="510" r="1.52" fill="#dc5656"/>
<text x="555.75" y="513.6" font-size="10" textLength="89.5" lengthAdjust="spacingAndGlyphs">Acetylated β-catenin</text>
<line x1="453.5" y1="525.05" x2="453.5" y2="665.8" stroke="#1a1a1a" stroke-width="1"/>
<line x1="451" y1="665.3" x2="453.3" y2="665.3" stroke="#1a1a1a" stroke-width="1"/>
<text x="450" y="668.25" font-size="8.2" font-weight="bold" text-anchor="end" textLength="4" lengthAdjust="spacingAndGlyphs">0</text>
<line x1="451" y1="618.55" x2="453.3" y2="618.55" stroke="#1a1a1a" stroke-width="1"/>
<text x="450" y="621.5" font-size="8.2" font-weight="bold" text-anchor="end" textLength="12" lengthAdjust="spacingAndGlyphs">100</text>
<line x1="451" y1="571.8" x2="453.3" y2="571.8" stroke="#1a1a1a" stroke-width="1"/>
<text x="450" y="574.75" font-size="8.2" font-weight="bold" text-anchor="end" textLength="12" lengthAdjust="spacingAndGlyphs">200</text>
<line x1="451" y1="525.05" x2="453.3" y2="525.05" stroke="#1a1a1a" stroke-width="1"/>
<text x="450" y="528" font-size="8.2" font-weight="bold" text-anchor="end" textLength="12" lengthAdjust="spacingAndGlyphs">300</text>
<line x1="453.3" y1="665.5" x2="687.5" y2="665.5" stroke="#1a1a1a" stroke-width="1"/>
<line x1="465.85" y1="665.3" x2="465.85" y2="667.6" stroke="#1a1a1a" stroke-width="1"/>
<line x1="491.75" y1="665.3" x2="491.75" y2="667.6" stroke="#1a1a1a" stroke-width="1"/>
<line x1="517.65" y1="665.3" x2="517.65" y2="667.6" stroke="#1a1a1a" stroke-width="1"/>
<line x1="543.55" y1="665.3" x2="543.55" y2="667.6" stroke="#1a1a1a" stroke-width="1"/>
<line x1="569.45" y1="665.3" x2="569.45" y2="667.6" stroke="#1a1a1a" stroke-width="1"/>
<line x1="595.35" y1="665.3" x2="595.35" y2="667.6" stroke="#1a1a1a" stroke-width="1"/>
<line x1="621.25" y1="665.3" x2="621.25" y2="667.6" stroke="#1a1a1a" stroke-width="1"/>
<line x1="647.15" y1="665.3" x2="647.15" y2="667.6" stroke="#1a1a1a" stroke-width="1"/>
<line x1="673.05" y1="665.3" x2="673.05" y2="667.6" stroke="#1a1a1a" stroke-width="1"/>
<rect x="458.88" y="616.82" width="4.85" height="48.48" fill="#fff" stroke="#1a1a1a" stroke-width="1.25"/>
<line x1="461.3" y1="616.82" x2="461.3" y2="613.55" stroke="#1a1a1a" stroke-width="1.25"/>
<line x1="459.47" y1="613.55" x2="463.13" y2="613.55" stroke="#1a1a1a" stroke-width="1.25"/>
<rect x="461.33" y="609.73" width="2.4" height="2.4" fill="#1a1a1a"/>
<rect x="460.2" y="620.86" width="2.4" height="2.4" fill="#1a1a1a"/>
<rect x="459.3" y="616.54" width="2.4" height="2.4" fill="#1a1a1a"/>
<rect x="460.95" y="619.96" width="2.4" height="2.4" fill="#1a1a1a"/>
<rect x="460.26" y="620.41" width="2.4" height="2.4" fill="#1a1a1a"/>
<rect x="468.07" y="619.3" width="4.85" height="46" fill="#fff" stroke="#dc5656" stroke-width="1.25"/>
<line x1="470.5" y1="619.3" x2="470.5" y2="616.03" stroke="#dc5656" stroke-width="1.25"/>
<line x1="468.67" y1="616.03" x2="472.33" y2="616.03" stroke="#dc5656" stroke-width="1.25"/>
<circle cx="469.41" cy="613.41" r="1.26" fill="#dc5656"/>
<circle cx="470.83" cy="624.53" r="1.26" fill="#dc5656"/>
<circle cx="470.93" cy="619.23" r="1.26" fill="#dc5656"/>
<circle cx="469.51" cy="616.22" r="1.26" fill="#dc5656"/>
<circle cx="469.89" cy="621.17" r="1.26" fill="#dc5656"/>
<rect x="484.77" y="619.02" width="4.85" height="46.28" fill="#fff" stroke="#1a1a1a" stroke-width="1.25"/>
<line x1="487.5" y1="619.02" x2="487.5" y2="614.34" stroke="#1a1a1a" stroke-width="1.25"/>
<line x1="485.37" y1="614.34" x2="489.03" y2="614.34" stroke="#1a1a1a" stroke-width="1.25"/>
<rect x="487.19" y="609.4" width="2.4" height="2.4" fill="#1a1a1a"/>
<rect x="486.66" y="625.3" width="2.4" height="2.4" fill="#1a1a1a"/>
<rect x="487.05" y="624.74" width="2.4" height="2.4" fill="#1a1a1a"/>
<rect x="485.89" y="614.38" width="2.4" height="2.4" fill="#1a1a1a"/>
<rect x="485.86" y="614.43" width="2.4" height="2.4" fill="#1a1a1a"/>
<rect x="493.97" y="618.55" width="4.85" height="46.75" fill="#fff" stroke="#dc5656" stroke-width="1.25"/>
<line x1="496.4" y1="618.55" x2="496.4" y2="615.75" stroke="#dc5656" stroke-width="1.25"/>
<line x1="494.57" y1="615.75" x2="498.23" y2="615.75" stroke="#dc5656" stroke-width="1.25"/>
<circle cx="495.2" cy="613.5" r="1.26" fill="#dc5656"/>
<circle cx="494.99" cy="623.04" r="1.26" fill="#dc5656"/>
<circle cx="497.16" cy="619.93" r="1.26" fill="#dc5656"/>
<circle cx="497.45" cy="616.91" r="1.26" fill="#dc5656"/>
<circle cx="495.69" cy="616.77" r="1.26" fill="#dc5656"/>
<rect x="510.68" y="619.95" width="4.85" height="45.35" fill="#fff" stroke="#1a1a1a" stroke-width="1.25"/>
<line x1="513.1" y1="619.95" x2="513.1" y2="616.21" stroke="#1a1a1a" stroke-width="1.25"/>
<line x1="511.27" y1="616.21" x2="514.93" y2="616.21" stroke="#1a1a1a" stroke-width="1.25"/>
<rect x="511.7" y="612.02" width="2.4" height="2.4" fill="#1a1a1a"/>
<rect x="511.97" y="624.74" width="2.4" height="2.4" fill="#1a1a1a"/>
<rect x="512.33" y="621.39" width="2.4" height="2.4" fill="#1a1a1a"/>
<rect x="511.04" y="613.53" width="2.4" height="2.4" fill="#1a1a1a"/>
<rect x="510.42" y="614.49" width="2.4" height="2.4" fill="#1a1a1a"/>
<rect x="519.88" y="572.55" width="4.85" height="92.75" fill="#fff" stroke="#dc5656" stroke-width="1.25"/>
<line x1="522.5" y1="572.55" x2="522.5" y2="566" stroke="#dc5656" stroke-width="1.25"/>
<line x1="520.47" y1="566" x2="524.13" y2="566" stroke="#dc5656" stroke-width="1.25"/>
<circle cx="521.5" cy="560.77" r="1.26" fill="#dc5656"/>
<circle cx="523.66" cy="583.02" r="1.26" fill="#dc5656"/>
<circle cx="521.77" cy="567.71" r="1.26" fill="#dc5656"/>
<circle cx="521.78" cy="565.08" r="1.26" fill="#dc5656"/>
<circle cx="523.54" cy="577.67" r="1.26" fill="#dc5656"/>
<rect x="536.58" y="616.21" width="4.85" height="49.09" fill="#fff" stroke="#1a1a1a" stroke-width="1.25"/>
<line x1="539.5" y1="616.21" x2="539.5" y2="611.54" stroke="#1a1a1a" stroke-width="1.25"/>
<line x1="537.17" y1="611.54" x2="540.83" y2="611.54" stroke="#1a1a1a" stroke-width="1.25"/>
<rect x="538.39" y="606.6" width="2.4" height="2.4" fill="#1a1a1a"/>
<rect x="539.26" y="622.49" width="2.4" height="2.4" fill="#1a1a1a"/>
<rect x="538.84" y="615.44" width="2.4" height="2.4" fill="#1a1a1a"/>
<rect x="538.89" y="612.24" width="2.4" height="2.4" fill="#1a1a1a"/>
<rect x="538.49" y="615.89" width="2.4" height="2.4" fill="#1a1a1a"/>
<rect x="545.78" y="620.42" width="4.85" height="44.88" fill="#fff" stroke="#dc5656" stroke-width="1.25"/>
<line x1="548.5" y1="620.42" x2="548.5" y2="616.21" stroke="#dc5656" stroke-width="1.25"/>
<line x1="546.37" y1="616.21" x2="550.03" y2="616.21" stroke="#dc5656" stroke-width="1.25"/>
<circle cx="547.61" cy="612.85" r="1.26" fill="#dc5656"/>
<circle cx="548.57" cy="627.15" r="1.26" fill="#dc5656"/>
<circle cx="549.45" cy="625.75" r="1.26" fill="#dc5656"/>
<circle cx="546.76" cy="624.91" r="1.26" fill="#dc5656"/>
<circle cx="549.51" cy="625.38" r="1.26" fill="#dc5656"/>
<rect x="562.48" y="616.68" width="4.85" height="48.62" fill="#fff" stroke="#1a1a1a" stroke-width="1.25"/>
<line x1="564.5" y1="616.68" x2="564.5" y2="612" stroke="#1a1a1a" stroke-width="1.25"/>
<line x1="563.07" y1="612" x2="566.73" y2="612" stroke="#1a1a1a" stroke-width="1.25"/>
<rect x="562.61" y="607.06" width="2.4" height="2.4" fill="#1a1a1a"/>
<rect x="562.3" y="622.96" width="2.4" height="2.4" fill="#1a1a1a"/>
<rect x="564.11" y="612.78" width="2.4" height="2.4" fill="#1a1a1a"/>
<rect x="564.42" y="612.72" width="2.4" height="2.4" fill="#1a1a1a"/>
<rect x="563.98" y="621.57" width="2.4" height="2.4" fill="#1a1a1a"/>
<rect x="571.68" y="557.07" width="4.85" height="108.23" fill="#fff" stroke="#dc5656" stroke-width="1.25"/>
<line x1="574.5" y1="557.07" x2="574.5" y2="549.59" stroke="#dc5656" stroke-width="1.25"/>
<line x1="572.27" y1="549.59" x2="575.93" y2="549.59" stroke="#dc5656" stroke-width="1.25"/>
<circle cx="575.07" cy="543.61" r="1.26" fill="#dc5656"/>
<circle cx="575.29" cy="569.04" r="1.26" fill="#dc5656"/>
<circle cx="575.22" cy="566.81" r="1.26" fill="#dc5656"/>
<circle cx="575.46" cy="547.77" r="1.26" fill="#dc5656"/>
<circle cx="573.2" cy="565.89" r="1.26" fill="#dc5656"/>
<rect x="588.38" y="621.35" width="4.85" height="43.95" fill="#fff" stroke="#1a1a1a" stroke-width="1.25"/>
<line x1="590.8" y1="621.35" x2="590.8" y2="619.02" stroke="#1a1a1a" stroke-width="1.25"/>
<line x1="588.97" y1="619.02" x2="592.63" y2="619.02" stroke="#1a1a1a" stroke-width="1.25"/>
<rect x="588.18" y="615.95" width="2.4" height="2.4" fill="#1a1a1a"/>
<rect x="590.55" y="623.89" width="2.4" height="2.4" fill="#1a1a1a"/>
<rect x="590.59" y="619.21" width="2.4" height="2.4" fill="#1a1a1a"/>
<rect x="588.95" y="619.23" width="2.4" height="2.4" fill="#1a1a1a"/>
<rect x="588.37" y="622.96" width="2.4" height="2.4" fill="#1a1a1a"/>
<rect x="597.58" y="616.21" width="4.85" height="49.09" fill="#fff" stroke="#dc5656" stroke-width="1.25"/>
<line x1="600.5" y1="616.21" x2="600.5" y2="610.6" stroke="#dc5656" stroke-width="1.25"/>
<line x1="598.17" y1="610.6" x2="601.83" y2="610.6" stroke="#dc5656" stroke-width="1.25"/>
<circle cx="599.1" cy="606.11" r="1.26" fill="#dc5656"/>
<circle cx="599.77" cy="625.19" r="1.26" fill="#dc5656"/>
<circle cx="599.26" cy="624.28" r="1.26" fill="#dc5656"/>
<circle cx="600.66" cy="619.87" r="1.26" fill="#dc5656"/>
<circle cx="599.45" cy="618.43" r="1.26" fill="#dc5656"/>
<rect x="614.27" y="618.78" width="4.85" height="46.52" fill="#fff" stroke="#1a1a1a" stroke-width="1.25"/>
<line x1="616.7" y1="618.78" x2="616.7" y2="615.04" stroke="#1a1a1a" stroke-width="1.25"/>
<line x1="614.87" y1="615.04" x2="618.53" y2="615.04" stroke="#1a1a1a" stroke-width="1.25"/>
<rect x="615.51" y="610.85" width="2.4" height="2.4" fill="#1a1a1a"/>
<rect x="615.86" y="623.57" width="2.4" height="2.4" fill="#1a1a1a"/>
<rect x="615.23" y="622.85" width="2.4" height="2.4" fill="#1a1a1a"/>
<rect x="616.33" y="618.3" width="2.4" height="2.4" fill="#1a1a1a"/>
<rect x="616.12" y="619.3" width="2.4" height="2.4" fill="#1a1a1a"/>
<rect x="623.48" y="564.79" width="4.85" height="100.51" fill="#fff" stroke="#dc5656" stroke-width="1.25"/>
<line x1="625.5" y1="564.79" x2="625.5" y2="558.24" stroke="#dc5656" stroke-width="1.25"/>
<line x1="624.07" y1="558.24" x2="627.73" y2="558.24" stroke="#dc5656" stroke-width="1.25"/>
<circle cx="625.04" cy="553.01" r="1.26" fill="#dc5656"/>
<circle cx="624.65" cy="575.26" r="1.26" fill="#dc5656"/>
<circle cx="624.89" cy="558.51" r="1.26" fill="#dc5656"/>
<circle cx="624.99" cy="574.58" r="1.26" fill="#dc5656"/>
<circle cx="627.36" cy="559.64" r="1.26" fill="#dc5656"/>
<rect x="640.17" y="618.32" width="4.85" height="46.98" fill="#fff" stroke="#1a1a1a" stroke-width="1.25"/>
<line x1="642.6" y1="618.32" x2="642.6" y2="615.98" stroke="#1a1a1a" stroke-width="1.25"/>
<line x1="640.77" y1="615.98" x2="644.43" y2="615.98" stroke="#1a1a1a" stroke-width="1.25"/>
<rect x="641.37" y="612.91" width="2.4" height="2.4" fill="#1a1a1a"/>
<rect x="642.31" y="620.86" width="2.4" height="2.4" fill="#1a1a1a"/>
<rect x="641.38" y="619.33" width="2.4" height="2.4" fill="#1a1a1a"/>
<rect x="642.41" y="618.19" width="2.4" height="2.4" fill="#1a1a1a"/>
<rect x="642.75" y="618.8" width="2.4" height="2.4" fill="#1a1a1a"/>
<rect x="649.38" y="621.82" width="4.85" height="43.48" fill="#fff" stroke="#dc5656" stroke-width="1.25"/>
<line x1="651.8" y1="621.82" x2="651.8" y2="619.49" stroke="#dc5656" stroke-width="1.25"/>
<line x1="649.97" y1="619.49" x2="653.63" y2="619.49" stroke="#dc5656" stroke-width="1.25"/>
<circle cx="650.93" cy="617.62" r="1.26" fill="#dc5656"/>
<circle cx="651.79" cy="625.56" r="1.26" fill="#dc5656"/>
<circle cx="652.22" cy="624.56" r="1.26" fill="#dc5656"/>
<circle cx="652.68" cy="624.76" r="1.26" fill="#dc5656"/>
<circle cx="652.68" cy="620.44" r="1.26" fill="#dc5656"/>
<rect x="666.08" y="610.6" width="4.85" height="54.7" fill="#fff" stroke="#1a1a1a" stroke-width="1.25"/>
<line x1="668.5" y1="610.6" x2="668.5" y2="605.93" stroke="#1a1a1a" stroke-width="1.25"/>
<line x1="666.67" y1="605.93" x2="670.33" y2="605.93" stroke="#1a1a1a" stroke-width="1.25"/>
<rect x="666.86" y="600.99" width="2.4" height="2.4" fill="#1a1a1a"/>
<rect x="666.98" y="616.88" width="2.4" height="2.4" fill="#1a1a1a"/>
<rect x="666.04" y="603.93" width="2.4" height="2.4" fill="#1a1a1a"/>
<rect x="665.85" y="603.95" width="2.4" height="2.4" fill="#1a1a1a"/>
<rect x="666.58" y="613.52" width="2.4" height="2.4" fill="#1a1a1a"/>
<rect x="675.28" y="583.95" width="4.85" height="81.35" fill="#fff" stroke="#dc5656" stroke-width="1.25"/>
<line x1="677.5" y1="583.95" x2="677.5" y2="579.28" stroke="#dc5656" stroke-width="1.25"/>
<line x1="675.87" y1="579.28" x2="679.53" y2="579.28" stroke="#dc5656" stroke-width="1.25"/>
<circle cx="677.7" cy="575.54" r="1.26" fill="#dc5656"/>
<circle cx="678.87" cy="591.43" r="1.26" fill="#dc5656"/>
<circle cx="677.58" cy="587.69" r="1.26" fill="#dc5656"/>
<circle cx="678.48" cy="583.51" r="1.26" fill="#dc5656"/>
<circle cx="678.15" cy="580.41" r="1.26" fill="#dc5656"/>
<text x="522.6" y="556.2" font-size="7.5" font-weight="bold" text-anchor="middle" textLength="13.2" lengthAdjust="spacingAndGlyphs">****</text>
<text x="574.4" y="543.1" font-size="7.5" font-weight="bold" text-anchor="middle" textLength="13.2" lengthAdjust="spacingAndGlyphs">****</text>
<text x="626.2" y="552.8" font-size="7.5" font-weight="bold" text-anchor="middle" textLength="13.2" lengthAdjust="spacingAndGlyphs">****</text>
<text x="678" y="573.3" font-size="7.5" font-weight="bold" text-anchor="middle" textLength="13.2" lengthAdjust="spacingAndGlyphs">****</text>
<text x="423" y="678.8" font-size="11" textLength="26" lengthAdjust="spacingAndGlyphs">Naive</text>
<text x="423" y="691.4" font-size="11" textLength="33" lengthAdjust="spacingAndGlyphs">Control</text>
<text x="423" y="704.4" font-size="11" textLength="27" lengthAdjust="spacingAndGlyphs">DNFB</text>
<line x1="463.35" y1="675.5" x2="469.15" y2="675.5" stroke="#111" stroke-width="1.45"/>
<line x1="466.5" y1="672.1" x2="466.5" y2="677.9" stroke="#111" stroke-width="1.45"/>
<line x1="490.85" y1="687.5" x2="496.65" y2="687.5" stroke="#111" stroke-width="1.45"/>
<line x1="493.5" y1="684.6" x2="493.5" y2="690.4" stroke="#111" stroke-width="1.45"/>
<line x1="541.35" y1="687.5" x2="547.15" y2="687.5" stroke="#111" stroke-width="1.45"/>
<line x1="544.5" y1="684.6" x2="544.5" y2="690.4" stroke="#111" stroke-width="1.45"/>
<line x1="594.35" y1="687.5" x2="600.15" y2="687.5" stroke="#111" stroke-width="1.45"/>
<line x1="597.5" y1="684.6" x2="597.5" y2="690.4" stroke="#111" stroke-width="1.45"/>
<line x1="644.35" y1="687.5" x2="650.15" y2="687.5" stroke="#111" stroke-width="1.45"/>
<line x1="647.5" y1="684.6" x2="647.5" y2="690.4" stroke="#111" stroke-width="1.45"/>
<line x1="516.35" y1="700.5" x2="522.15" y2="700.5" stroke="#111" stroke-width="1.45"/>
<line x1="519.5" y1="697.7" x2="519.5" y2="703.5" stroke="#111" stroke-width="1.45"/>
<line x1="567.1" y1="700.5" x2="572.9" y2="700.5" stroke="#111" stroke-width="1.45"/>
<line x1="570.5" y1="697.7" x2="570.5" y2="703.5" stroke="#111" stroke-width="1.45"/>
<line x1="619.35" y1="700.5" x2="625.15" y2="700.5" stroke="#111" stroke-width="1.45"/>
<line x1="622.5" y1="697.7" x2="622.5" y2="703.5" stroke="#111" stroke-width="1.45"/>
<line x1="669.35" y1="700.5" x2="675.15" y2="700.5" stroke="#111" stroke-width="1.45"/>
<line x1="672.5" y1="697.7" x2="672.5" y2="703.5" stroke="#111" stroke-width="1.45"/>
<line x1="484.5" y1="707.5" x2="528.75" y2="707.5" stroke="#1a1a1a" stroke-width="1.1"/>
<text x="508.75" y="718.5" font-size="10.3" font-weight="bold" text-anchor="middle" textLength="12" lengthAdjust="spacingAndGlyphs">3d</text>
<line x1="535.5" y1="707.5" x2="579.5" y2="707.5" stroke="#1a1a1a" stroke-width="1.1"/>
<text x="560" y="718.5" font-size="10.3" font-weight="bold" text-anchor="middle" textLength="12" lengthAdjust="spacingAndGlyphs">5d</text>
<line x1="585" y1="707.5" x2="630" y2="707.5" stroke="#1a1a1a" stroke-width="1.1"/>
<text x="610.5" y="718.5" font-size="10.3" font-weight="bold" text-anchor="middle" textLength="12" lengthAdjust="spacingAndGlyphs">7d</text>
<line x1="636.75" y1="707.5" x2="683" y2="707.5" stroke="#1a1a1a" stroke-width="1.1"/>
<text x="661.75" y="718.5" font-size="10.3" font-weight="bold" text-anchor="middle" textLength="12" lengthAdjust="spacingAndGlyphs">9d</text>
<line x1="484.5" y1="721.5" x2="683" y2="721.5" stroke="#1a1a1a" stroke-width="1.1"/>
<text x="585.6" y="731.8" font-size="10.3" font-weight="bold" text-anchor="middle" textLength="141" lengthAdjust="spacingAndGlyphs">Time after DNFB intervention</text>
<text x="434.2" y="593.3" font-size="12" text-anchor="middle" textLength="126.6" lengthAdjust="spacingAndGlyphs" transform="rotate(-90 434.2 593.3)">Relative expression (%)</text>
<text x="12.8" y="772.7" font-size="30" font-weight="bold" fill="#000">H</text>
<text x="92.6" y="809.5" font-size="10.5" font-weight="bold" fill="#111" textLength="78.6" lengthAdjust="spacingAndGlyphs">Control+Vehicle</text>
<text x="175.7" y="809.5" font-size="10.5" font-weight="bold" fill="#111" textLength="69.7" lengthAdjust="spacingAndGlyphs">DNFB+Vehicle</text>
<text x="253.6" y="809.5" font-size="10.5" font-weight="bold" fill="#111" textLength="78.5" lengthAdjust="spacingAndGlyphs">DNFB+SRT1720</text>
<line x1="98.2" y1="813.5" x2="170.2" y2="813.5" stroke="#1a1a1a" stroke-width="1.1"/>
<line x1="176.7" y1="813.5" x2="248.7" y2="813.5" stroke="#1a1a1a" stroke-width="1.1"/>
<line x1="253.6" y1="813.5" x2="325.6" y2="813.5" stroke="#1a1a1a" stroke-width="1.1"/>
<rect x="94" y="821.2" width="240.6" height="33.4" fill="#e8e8e8"/>
<rect x="125" y="821.2" width="4" height="33.4" fill="#eeeeee" filter="url(#bl2)"/>
<rect x="150.5" y="821.2" width="4" height="33.4" fill="#eeeeee" filter="url(#bl2)"/>
<rect x="175.7" y="821.2" width="4" height="33.4" fill="#eeeeee" filter="url(#bl2)"/>
<rect x="200.6" y="821.2" width="4" height="33.4" fill="#eeeeee" filter="url(#bl2)"/>
<rect x="225.7" y="821.2" width="4" height="33.4" fill="#eeeeee" filter="url(#bl2)"/>
<rect x="251.6" y="821.2" width="4" height="33.4" fill="#eeeeee" filter="url(#bl2)"/>
<rect x="277" y="821.2" width="4" height="33.4" fill="#eeeeee" filter="url(#bl2)"/>
<rect x="302.3" y="821.2" width="4" height="33.4" fill="#eeeeee" filter="url(#bl2)"/>
<path d="M106.75,835.3 Q114.4,835 122.05,835.3 Q124.65,835.3 124.65,837.9 L124.65,839.3 Q124.65,841.9 122.05,841.9 Q114.4,842.4 106.75,841.9 Q104.15,841.9 104.15,839.3 L104.15,837.9 Q104.15,835.3 106.75,835.3 Z" fill="#000" fill-opacity="1" filter="url(#bl)"/>
<path d="M132.35,837 Q140,836.7 147.65,837 Q150.25,837 150.25,839.6 L150.25,841 Q150.25,843.6 147.65,843.6 Q140,844.1 132.35,843.6 Q129.75,843.6 129.75,841 L129.75,839.6 Q129.75,837 132.35,837 Z" fill="#000" fill-opacity="1" filter="url(#bl)"/>
<path d="M157.95,837.9 Q165.6,837.6 173.25,837.9 Q175.85,837.9 175.85,840.5 L175.85,841.9 Q175.85,844.5 173.25,844.5 Q165.6,845 157.95,844.5 Q155.35,844.5 155.35,841.9 L155.35,840.5 Q155.35,837.9 157.95,837.9 Z" fill="#000" fill-opacity="1" filter="url(#bl)"/>
<path d="M182.3,838.5 Q190,838.2 197.7,838.5 Q199,838.5 199,839.8 L199,839.8 Q199,841.1 197.7,841.1 Q190,842 182.3,841.1 Q181,841.1 181,839.8 L181,839.8 Q181,838.5 182.3,838.5 Z" fill="#000" fill-opacity="0.12" filter="url(#bl)"/>
<path d="M207.3,838.5 Q215,838.2 222.7,838.5 Q224,838.5 224,839.8 L224,839.8 Q224,841.1 222.7,841.1 Q215,842 207.3,841.1 Q206,841.1 206,839.8 L206,839.8 Q206,838.5 207.3,838.5 Z" fill="#000" fill-opacity="0.12" filter="url(#bl)"/>
<path d="M232.8,838.5 Q240.5,838.2 248.2,838.5 Q249.5,838.5 249.5,839.8 L249.5,839.8 Q249.5,841.1 248.2,841.1 Q240.5,842 232.8,841.1 Q231.5,841.1 231.5,839.8 L231.5,839.8 Q231.5,838.5 232.8,838.5 Z" fill="#000" fill-opacity="0.12" filter="url(#bl)"/>
<path d="M258.45,835.9 Q266.1,835.6 273.75,835.9 Q276.35,835.9 276.35,838.5 L276.35,839.9 Q276.35,842.5 273.75,842.5 Q266.1,842.8 258.45,842.5 Q255.85,842.5 255.85,839.9 L255.85,838.5 Q255.85,835.9 258.45,835.9 Z" fill="#000" fill-opacity="0.55" filter="url(#bl)"/>
<path d="M257.2,836.1 Q266.1,835.8 275,836.1 Q276,836.1 276,837.1 L276,837.1 Q276,838.1 275,838.1 Q266.1,838.4 257.2,838.1 Q256.2,838.1 256.2,837.1 L256.2,837.1 Q256.2,836.1 257.2,836.1 Z" fill="#000" fill-opacity="0.55" filter="url(#bl)"/>
<path d="M257.3,840.2 Q266.1,839.9 274.9,840.2 Q276,840.2 276,841.3 L276,841.3 Q276,842.4 274.9,842.4 Q266.1,842.7 257.3,842.4 Q256.2,842.4 256.2,841.3 L256.2,841.3 Q256.2,840.2 257.3,840.2 Z" fill="#000" fill-opacity="0.65" filter="url(#bl)"/>
<path d="M283.75,835.9 Q291.4,835.6 299.05,835.9 Q301.65,835.9 301.65,838.5 L301.65,839.9 Q301.65,842.5 299.05,842.5 Q291.4,842.8 283.75,842.5 Q281.15,842.5 281.15,839.9 L281.15,838.5 Q281.15,835.9 283.75,835.9 Z" fill="#000" fill-opacity="0.55" filter="url(#bl)"/>
<path d="M282.5,836.1 Q291.4,835.8 300.3,836.1 Q301.3,836.1 301.3,837.1 L301.3,837.1 Q301.3,838.1 300.3,838.1 Q291.4,838.4 282.5,838.1 Q281.5,838.1 281.5,837.1 L281.5,837.1 Q281.5,836.1 282.5,836.1 Z" fill="#000" fill-opacity="0.55" filter="url(#bl)"/>
<path d="M282.6,840.2 Q291.4,839.9 300.2,840.2 Q301.3,840.2 301.3,841.3 L301.3,841.3 Q301.3,842.4 300.2,842.4 Q291.4,842.7 282.6,842.4 Q281.5,842.4 281.5,841.3 L281.5,841.3 Q281.5,840.2 282.6,840.2 Z" fill="#000" fill-opacity="0.65" filter="url(#bl)"/>
<path d="M309.15,835.9 Q316.8,835.6 324.45,835.9 Q327.05,835.9 327.05,838.5 L327.05,839.9 Q327.05,842.5 324.45,842.5 Q316.8,842.8 309.15,842.5 Q306.55,842.5 306.55,839.9 L306.55,838.5 Q306.55,835.9 309.15,835.9 Z" fill="#000" fill-opacity="0.55" filter="url(#bl)"/>
<path d="M307.9,836.1 Q316.8,835.8 325.7,836.1 Q326.7,836.1 326.7,837.1 L326.7,837.1 Q326.7,838.1 325.7,838.1 Q316.8,838.4 307.9,838.1 Q306.9,838.1 306.9,837.1 L306.9,837.1 Q306.9,836.1 307.9,836.1 Z" fill="#000" fill-opacity="0.55" filter="url(#bl)"/>
<path d="M308,840.2 Q316.8,839.9 325.6,840.2 Q326.7,840.2 326.7,841.3 L326.7,841.3 Q326.7,842.4 325.6,842.4 Q316.8,842.7 308,842.4 Q306.9,842.4 306.9,841.3 L306.9,841.3 Q306.9,840.2 308,840.2 Z" fill="#000" fill-opacity="0.65" filter="url(#bl)"/>
<rect x="94" y="858.2" width="240.6" height="33.3" fill="#e4e4e4"/>
<rect x="125" y="858.2" width="4" height="33.3" fill="#e9e9e9" filter="url(#bl2)"/>
<rect x="150.5" y="858.2" width="4" height="33.3" fill="#e9e9e9" filter="url(#bl2)"/>
<rect x="175.7" y="858.2" width="4" height="33.3" fill="#e9e9e9" filter="url(#bl2)"/>
<rect x="200.6" y="858.2" width="4" height="33.3" fill="#e9e9e9" filter="url(#bl2)"/>
<rect x="225.7" y="858.2" width="4" height="33.3" fill="#e9e9e9" filter="url(#bl2)"/>
<rect x="251.6" y="858.2" width="4" height="33.3" fill="#e9e9e9" filter="url(#bl2)"/>
<rect x="277" y="858.2" width="4" height="33.3" fill="#e9e9e9" filter="url(#bl2)"/>
<rect x="302.3" y="858.2" width="4" height="33.3" fill="#e9e9e9" filter="url(#bl2)"/>
<path d="M104.85,874 Q113.4,873.7 121.95,874 Q123.65,874 123.65,875.7 L123.65,875.7 Q123.65,877.4 121.95,877.4 Q113.4,877.8 104.85,877.4 Q103.15,877.4 103.15,875.7 L103.15,875.7 Q103.15,874 104.85,874 Z" fill="#000" fill-opacity="0.4" filter="url(#bl)"/>
<path d="M131.1,873.7 Q139,873.4 146.9,873.7 Q148.5,873.7 148.5,875.3 L148.5,875.3 Q148.5,876.9 146.9,876.9 Q139,877.3 131.1,876.9 Q129.5,876.9 129.5,875.3 L129.5,875.3 Q129.5,873.7 131.1,873.7 Z" fill="#000" fill-opacity="0.3" filter="url(#bl)"/>
<path d="M157.6,871.7 Q165,871.4 172.4,871.7 Q174,871.7 174,873.3 L174,873.3 Q174,874.9 172.4,874.9 Q165,875.3 157.6,874.9 Q156,874.9 156,873.3 L156,873.3 Q156,871.7 157.6,871.7 Z" fill="#000" fill-opacity="0.24" filter="url(#bl)"/>
<path d="M183.35,871.3 Q190,871 196.65,871.3 Q199.25,871.3 199.25,873.9 L199.25,874.3 Q199.25,876.9 196.65,876.9 Q190,877.3 183.35,876.9 Q180.75,876.9 180.75,874.3 L180.75,873.9 Q180.75,871.3 183.35,871.3 Z" fill="#000" fill-opacity="1" filter="url(#bl)"/>
<path d="M208.6,871.7 Q215.5,871.4 222.4,871.7 Q225,871.7 225,874.3 L225,874.7 Q225,877.3 222.4,877.3 Q215.5,877.7 208.6,877.3 Q206,877.3 206,874.7 L206,874.3 Q206,871.7 208.6,871.7 Z" fill="#000" fill-opacity="1" filter="url(#bl)"/>
<path d="M233.05,872.8 Q239.3,872.5 245.55,872.8 Q248.05,872.8 248.05,875.3 L248.05,875.3 Q248.05,877.8 245.55,877.8 Q239.3,878.2 233.05,877.8 Q230.55,877.8 230.55,875.3 L230.55,875.3 Q230.55,872.8 233.05,872.8 Z" fill="#000" fill-opacity="1" filter="url(#bl)"/>
<path d="M256.35,873.8 Q264,873.5 271.65,873.8 Q273.75,873.8 273.75,875.9 L273.75,875.9 Q273.75,878 271.65,878 Q264,878.4 256.35,878 Q254.25,878 254.25,875.9 L254.25,875.9 Q254.25,873.8 256.35,873.8 Z" fill="#000" fill-opacity="0.58" filter="url(#bl)"/>
<path d="M282.95,875.3 Q290.5,875 298.05,875.3 Q300.25,875.3 300.25,877.5 L300.25,877.5 Q300.25,879.7 298.05,879.7 Q290.5,880.1 282.95,879.7 Q280.75,879.7 280.75,877.5 L280.75,877.5 Q280.75,875.3 282.95,875.3 Z" fill="#000" fill-opacity="0.7" filter="url(#bl)"/>
<path d="M308.5,877 Q317,876.7 325.5,877 Q327.5,877 327.5,879 L327.5,879 Q327.5,881 325.5,881 Q317,881.4 308.5,881 Q306.5,881 306.5,879 L306.5,879 Q306.5,877 308.5,877 Z" fill="#000" fill-opacity="0.76" filter="url(#bl)"/>
<rect x="181" y="879" width="18" height="10" fill="#000" fill-opacity="0.07" filter="url(#bl2)"/>
<rect x="206.5" y="879" width="18" height="10" fill="#000" fill-opacity="0.07" filter="url(#bl2)"/>
<rect x="230.3" y="879" width="18" height="10" fill="#000" fill-opacity="0.07" filter="url(#bl2)"/>
<rect x="94" y="895.2" width="240.6" height="33.8" fill="#e0e0e0"/>
<rect x="125" y="895.2" width="4" height="33.8" fill="#e6e6e6" filter="url(#bl2)"/>
<rect x="150.5" y="895.2" width="4" height="33.8" fill="#e6e6e6" filter="url(#bl2)"/>
<rect x="175.7" y="895.2" width="4" height="33.8" fill="#e6e6e6" filter="url(#bl2)"/>
<rect x="200.6" y="895.2" width="4" height="33.8" fill="#e6e6e6" filter="url(#bl2)"/>
<rect x="225.7" y="895.2" width="4" height="33.8" fill="#e6e6e6" filter="url(#bl2)"/>
<rect x="251.6" y="895.2" width="4" height="33.8" fill="#e6e6e6" filter="url(#bl2)"/>
<rect x="277" y="895.2" width="4" height="33.8" fill="#e6e6e6" filter="url(#bl2)"/>
<rect x="302.3" y="895.2" width="4" height="33.8" fill="#e6e6e6" filter="url(#bl2)"/>
<rect x="103" y="912.6" width="20" height="7" fill="#000" fill-opacity="0.09" filter="url(#bl2)"/>
<path d="M104.85,905.45 Q113,905.15 121.15,905.45 Q123.75,905.45 123.75,908.05 L123.75,911.15 Q123.75,913.75 121.15,913.75 Q113,915.15 104.85,913.75 Q102.25,913.75 102.25,911.15 L102.25,908.05 Q102.25,905.45 104.85,905.45 Z" fill="#000" fill-opacity="1" filter="url(#bl)"/>
<rect x="128.7" y="913" width="20" height="7" fill="#000" fill-opacity="0.09" filter="url(#bl2)"/>
<path d="M130.3,905.85 Q138.7,905.55 147.1,905.85 Q149.7,905.85 149.7,908.45 L149.7,911.55 Q149.7,914.15 147.1,914.15 Q138.7,915.55 130.3,914.15 Q127.7,914.15 127.7,911.55 L127.7,908.45 Q127.7,905.85 130.3,905.85 Z" fill="#000" fill-opacity="1" filter="url(#bl)"/>
<rect x="154.6" y="912.5" width="20" height="7" fill="#000" fill-opacity="0.09" filter="url(#bl2)"/>
<path d="M156.2,905.35 Q164.6,905.05 173,905.35 Q175.6,905.35 175.6,907.95 L175.6,911.05 Q175.6,913.65 173,913.65 Q164.6,915.05 156.2,913.65 Q153.6,913.65 153.6,911.05 L153.6,907.95 Q153.6,905.35 156.2,905.35 Z" fill="#000" fill-opacity="1" filter="url(#bl)"/>
<rect x="179.7" y="913" width="20" height="7" fill="#000" fill-opacity="0.09" filter="url(#bl2)"/>
<path d="M181.55,905.85 Q189.7,905.55 197.85,905.85 Q200.45,905.85 200.45,908.45 L200.45,911.55 Q200.45,914.15 197.85,914.15 Q189.7,915.55 181.55,914.15 Q178.95,914.15 178.95,911.55 L178.95,908.45 Q178.95,905.85 181.55,905.85 Z" fill="#000" fill-opacity="1" filter="url(#bl)"/>
<rect x="205" y="913.5" width="20" height="7" fill="#000" fill-opacity="0.09" filter="url(#bl2)"/>
<path d="M207.1,906.5 Q215,906.2 222.9,906.5 Q225.5,906.5 225.5,909.1 L225.5,911.9 Q225.5,914.5 222.9,914.5 Q215,915.9 207.1,914.5 Q204.5,914.5 204.5,911.9 L204.5,909.1 Q204.5,906.5 207.1,906.5 Z" fill="#000" fill-opacity="1" filter="url(#bl)"/>
<rect x="230.5" y="915.4" width="20" height="7" fill="#000" fill-opacity="0.09" filter="url(#bl2)"/>
<path d="M232.4,908 Q240.5,907.7 248.6,908 Q251.2,908 251.2,910.6 L251.2,914.2 Q251.2,916.8 248.6,916.8 Q240.5,918.2 232.4,916.8 Q229.8,916.8 229.8,914.2 L229.8,910.6 Q229.8,908 232.4,908 Z" fill="#000" fill-opacity="1" filter="url(#bl)"/>
<rect x="256.5" y="916.6" width="20" height="7" fill="#000" fill-opacity="0.09" filter="url(#bl2)"/>
<path d="M258,909.45 Q266.5,909.15 275,909.45 Q277.6,909.45 277.6,912.05 L277.6,915.15 Q277.6,917.75 275,917.75 Q266.5,919.15 258,917.75 Q255.4,917.75 255.4,915.15 L255.4,912.05 Q255.4,909.45 258,909.45 Z" fill="#000" fill-opacity="1" filter="url(#bl)"/>
<rect x="283.7" y="917.1" width="20" height="7" fill="#000" fill-opacity="0.09" filter="url(#bl2)"/>
<path d="M285.2,910.4 Q293.7,910.1 302.2,910.4 Q304.8,910.4 304.8,913 L304.8,915.2 Q304.8,917.8 302.2,917.8 Q293.7,919.2 285.2,917.8 Q282.6,917.8 282.6,915.2 L282.6,913 Q282.6,910.4 285.2,910.4 Z" fill="#000" fill-opacity="1" filter="url(#bl)"/>
<rect x="310.5" y="917.4" width="20" height="7" fill="#000" fill-opacity="0.09" filter="url(#bl2)"/>
<path d="M312.4,909.45 Q320.5,909.15 328.6,909.45 Q331.2,909.45 331.2,912.05 L331.2,916.75 Q331.2,919.35 328.6,919.35 Q320.5,920.75 312.4,919.35 Q309.8,919.35 309.8,916.75 L309.8,912.05 Q309.8,909.45 312.4,909.45 Z" fill="#000" fill-opacity="1" filter="url(#bl)"/>
<rect x="94" y="931.6" width="240.6" height="34.7" fill="#e2e2e2"/>
<rect x="125" y="931.6" width="4" height="34.7" fill="#e8e8e8" filter="url(#bl2)"/>
<rect x="150.5" y="931.6" width="4" height="34.7" fill="#e8e8e8" filter="url(#bl2)"/>
<rect x="175.7" y="931.6" width="4" height="34.7" fill="#e8e8e8" filter="url(#bl2)"/>
<rect x="200.6" y="931.6" width="4" height="34.7" fill="#e8e8e8" filter="url(#bl2)"/>
<rect x="225.7" y="931.6" width="4" height="34.7" fill="#e8e8e8" filter="url(#bl2)"/>
<rect x="251.6" y="931.6" width="4" height="34.7" fill="#e8e8e8" filter="url(#bl2)"/>
<rect x="277" y="931.6" width="4" height="34.7" fill="#e8e8e8" filter="url(#bl2)"/>
<rect x="302.3" y="931.6" width="4" height="34.7" fill="#e8e8e8" filter="url(#bl2)"/>
<path d="M103.6,947.5 Q111.5,947.2 119.4,947.5 Q122,947.5 122,950.1 L122,952.3 Q122,954.9 119.4,954.9 Q111.5,955.5 103.6,954.9 Q101,954.9 101,952.3 L101,950.1 Q101,947.5 103.6,947.5 Z" fill="#000" fill-opacity="1" filter="url(#bl)"/>
<path d="M128.8,945.7 Q136.9,945.4 145,945.7 Q147.6,945.7 147.6,948.3 L147.6,949.9 Q147.6,952.5 145,952.5 Q136.9,953.1 128.8,952.5 Q126.2,952.5 126.2,949.9 L126.2,948.3 Q126.2,945.7 128.8,945.7 Z" fill="#000" fill-opacity="1" filter="url(#bl)"/>
<path d="M155.05,944.2 Q163.2,943.9 171.35,944.2 Q173.95,944.2 173.95,946.8 L173.95,949 Q173.95,951.6 171.35,951.6 Q163.2,952.2 155.05,951.6 Q152.45,951.6 152.45,949 L152.45,946.8 Q152.45,944.2 155.05,944.2 Z" fill="#000" fill-opacity="1" filter="url(#bl)"/>
<path d="M181.6,944.15 Q189.3,943.85 197,944.15 Q199.6,944.15 199.6,946.75 L199.6,948.65 Q199.6,951.25 197,951.25 Q189.3,951.85 181.6,951.25 Q179,951.25 179,948.65 L179,946.75 Q179,944.15 181.6,944.15 Z" fill="#000" fill-opacity="1" filter="url(#bl)"/>
<path d="M206.85,944 Q214.5,943.7 222.15,944 Q224.75,944 224.75,946.6 L224.75,948.4 Q224.75,951 222.15,951 Q214.5,951.6 206.85,951 Q204.25,951 204.25,948.4 L204.25,946.6 Q204.25,944 206.85,944 Z" fill="#000" fill-opacity="1" filter="url(#bl)"/>
<path d="M232.4,944.1 Q240.5,943.8 248.6,944.1 Q251.2,944.1 251.2,946.7 L251.2,948.3 Q251.2,950.9 248.6,950.9 Q240.5,951.5 232.4,950.9 Q229.8,950.9 229.8,948.3 L229.8,946.7 Q229.8,944.1 232.4,944.1 Z" fill="#000" fill-opacity="1" filter="url(#bl)"/>
<path d="M258,944.1 Q266.1,943.8 274.2,944.1 Q276.8,944.1 276.8,946.7 L276.8,948.3 Q276.8,950.9 274.2,950.9 Q266.1,951.5 258,950.9 Q255.4,950.9 255.4,948.3 L255.4,946.7 Q255.4,944.1 258,944.1 Z" fill="#000" fill-opacity="1" filter="url(#bl)"/>
<path d="M284.25,944 Q292,943.7 299.75,944 Q302.35,944 302.35,946.6 L302.35,948.4 Q302.35,951 299.75,951 Q292,951.6 284.25,951 Q281.65,951 281.65,948.4 L281.65,946.6 Q281.65,944 284.25,944 Z" fill="#000" fill-opacity="1" filter="url(#bl)"/>
<path d="M311.1,942.55 Q318.8,942.25 326.5,942.55 Q329.1,942.55 329.1,945.15 L329.1,947.45 Q329.1,950.05 326.5,950.05 Q318.8,950.65 311.1,950.05 Q308.5,950.05 308.5,947.45 L308.5,945.15 Q308.5,942.55 311.1,942.55 Z" fill="#000" fill-opacity="1" filter="url(#bl)"/>
<text x="31.7" y="843.6" font-size="11" font-weight="bold" fill="#111" textLength="28.3" lengthAdjust="spacingAndGlyphs">SIRT1</text>
<text x="29.5" y="874.8" font-size="11" font-weight="bold" fill="#111" textLength="51" lengthAdjust="spacingAndGlyphs">Acetylated</text>
<text x="29.5" y="887.5" font-size="11" font-weight="bold" fill="#111" textLength="45.7" lengthAdjust="spacingAndGlyphs">β-catenin</text>
<text x="29.5" y="914" font-size="11" font-weight="bold" fill="#111" textLength="45.7" lengthAdjust="spacingAndGlyphs">β-catenin</text>
<text x="29.5" y="950.3" font-size="11" font-weight="bold" fill="#111" textLength="33.2" lengthAdjust="spacingAndGlyphs">β-actin</text>
<text x="338.5" y="847" font-size="10.5" font-weight="bold" fill="#111" textLength="37.8" lengthAdjust="spacingAndGlyphs">110 kDa</text>
<text x="343.5" y="881.3" font-size="10.5" font-weight="bold" fill="#111" textLength="32.5" lengthAdjust="spacingAndGlyphs">92 kDa</text>
<text x="343.5" y="917" font-size="10.5" font-weight="bold" fill="#111" textLength="32.5" lengthAdjust="spacingAndGlyphs">92 kDa</text>
<text x="343.5" y="953.4" font-size="10.5" font-weight="bold" fill="#111" textLength="32.5" lengthAdjust="spacingAndGlyphs">42 kDa</text>
<text x="396" y="771" font-size="29" font-weight="bold" fill="#000">I</text>
<rect x="445.75" y="768.74" width="2.9" height="2.9" fill="#1a1a1a"/>
<text x="456.6" y="773.9" font-size="10.3" textLength="68.75" lengthAdjust="spacingAndGlyphs">Control+Vehicle</text>
<circle cx="447.2" cy="782.09" r="1.52" fill="#dc5656"/>
<text x="456.6" y="785.8" font-size="10.3" textLength="63" lengthAdjust="spacingAndGlyphs">DNFB+Vehicle</text>
<polygon points="447.2,792.31 445.46,795.64 448.94,795.64" fill="#23238f"/>
<text x="456.6" y="797.9" font-size="10.3" textLength="73.5" lengthAdjust="spacingAndGlyphs">DNFB+SRT1720</text>
<line x1="437.5" y1="817" x2="437.5" y2="955.5" stroke="#1a1a1a" stroke-width="1"/>
<line x1="435.2" y1="955" x2="437.5" y2="955" stroke="#1a1a1a" stroke-width="1"/>
<text x="434.2" y="957.95" font-size="8.2" font-weight="bold" text-anchor="end" textLength="4" lengthAdjust="spacingAndGlyphs">0</text>
<line x1="435.2" y1="927.4" x2="437.5" y2="927.4" stroke="#1a1a1a" stroke-width="1"/>
<text x="434.2" y="930.35" font-size="8.2" font-weight="bold" text-anchor="end" textLength="8" lengthAdjust="spacingAndGlyphs">50</text>
<line x1="435.2" y1="899.8" x2="437.5" y2="899.8" stroke="#1a1a1a" stroke-width="1"/>
<text x="434.2" y="902.75" font-size="8.2" font-weight="bold" text-anchor="end" textLength="12" lengthAdjust="spacingAndGlyphs">100</text>
<line x1="435.2" y1="872.2" x2="437.5" y2="872.2" stroke="#1a1a1a" stroke-width="1"/>
<text x="434.2" y="875.15" font-size="8.2" font-weight="bold" text-anchor="end" textLength="12" lengthAdjust="spacingAndGlyphs">150</text>
<line x1="435.2" y1="844.6" x2="437.5" y2="844.6" stroke="#1a1a1a" stroke-width="1"/>
<text x="434.2" y="847.55" font-size="8.2" font-weight="bold" text-anchor="end" textLength="12" lengthAdjust="spacingAndGlyphs">200</text>
<line x1="435.2" y1="817" x2="437.5" y2="817" stroke="#1a1a1a" stroke-width="1"/>
<text x="434.2" y="819.95" font-size="8.2" font-weight="bold" text-anchor="end" textLength="12" lengthAdjust="spacingAndGlyphs">250</text>
<line x1="437.5" y1="955.5" x2="609.9" y2="955.5" stroke="#1a1a1a" stroke-width="1"/>
<line x1="465.75" y1="955" x2="465.75" y2="957.3" stroke="#1a1a1a" stroke-width="1"/>
<line x1="522.75" y1="955" x2="522.75" y2="957.3" stroke="#1a1a1a" stroke-width="1"/>
<line x1="580" y1="955" x2="580" y2="957.3" stroke="#1a1a1a" stroke-width="1"/>
<rect x="446.35" y="899.8" width="8.6" height="55.2" fill="#fff" stroke="#1a1a1a" stroke-width="1.2"/>
<line x1="450.65" y1="899.8" x2="450.65" y2="895.94" stroke="#1a1a1a" stroke-width="1.2"/>
<line x1="447.71" y1="895.5" x2="453.59" y2="895.5" stroke="#1a1a1a" stroke-width="1.2"/>
<rect x="448.5" y="891.54" width="2.6" height="2.6" fill="#1a1a1a"/>
<rect x="451.03" y="904.68" width="2.6" height="2.6" fill="#1a1a1a"/>
<rect x="450.54" y="896.62" width="2.6" height="2.6" fill="#1a1a1a"/>
<rect x="449.05" y="902.33" width="2.6" height="2.6" fill="#1a1a1a"/>
<rect x="449.74" y="895.33" width="2.6" height="2.6" fill="#1a1a1a"/>
<rect x="461.95" y="938.72" width="8.6" height="16.28" fill="#fff" stroke="#dc5656" stroke-width="1.2"/>
<line x1="466.25" y1="938.72" x2="466.25" y2="935.96" stroke="#dc5656" stroke-width="1.2"/>
<line x1="463.31" y1="935.5" x2="469.19" y2="935.5" stroke="#dc5656" stroke-width="1.2"/>
<circle cx="466.06" cy="933.75" r="1.37" fill="#dc5656"/>
<circle cx="464.97" cy="943.13" r="1.37" fill="#dc5656"/>
<circle cx="465.28" cy="941.27" r="1.37" fill="#dc5656"/>
<circle cx="467.93" cy="937.03" r="1.37" fill="#dc5656"/>
<circle cx="464.56" cy="941.58" r="1.37" fill="#dc5656"/>
<rect x="477.55" y="927.01" width="8.6" height="27.99" fill="#fff" stroke="#23238f" stroke-width="1.2"/>
<line x1="481.5" y1="927.01" x2="481.5" y2="922.05" stroke="#23238f" stroke-width="1.2"/>
<line x1="478.91" y1="922.5" x2="484.79" y2="922.5" stroke="#23238f" stroke-width="1.2"/>
<polygon points="481,916.38 479.44,919.37 482.56,919.37" fill="#23238f"/>
<polygon points="480.19,933.27 478.63,936.26 481.75,936.26" fill="#23238f"/>
<polygon points="480.33,927.89 478.77,930.88 481.89,930.88" fill="#23238f"/>
<polygon points="482.97,918.24 481.41,921.23 484.53,921.23" fill="#23238f"/>
<polygon points="484.12,931.26 482.56,934.25 485.68,934.25" fill="#23238f"/>
<rect x="503.35" y="898.75" width="8.6" height="56.25" fill="#fff" stroke="#1a1a1a" stroke-width="1.2"/>
<line x1="507.65" y1="898.75" x2="507.65" y2="895.44" stroke="#1a1a1a" stroke-width="1.2"/>
<line x1="504.71" y1="895.5" x2="510.59" y2="895.5" stroke="#1a1a1a" stroke-width="1.2"/>
<rect x="505.78" y="891.49" width="2.6" height="2.6" fill="#1a1a1a"/>
<rect x="507.79" y="902.75" width="2.6" height="2.6" fill="#1a1a1a"/>
<rect x="506.03" y="895.13" width="2.6" height="2.6" fill="#1a1a1a"/>
<rect x="507.03" y="900.47" width="2.6" height="2.6" fill="#1a1a1a"/>
<rect x="504.91" y="901.36" width="2.6" height="2.6" fill="#1a1a1a"/>
<rect x="518.95" y="899.25" width="8.6" height="55.75" fill="#fff" stroke="#dc5656" stroke-width="1.2"/>
<line x1="523.5" y1="899.25" x2="523.5" y2="893.73" stroke="#dc5656" stroke-width="1.2"/>
<line x1="520.31" y1="893.5" x2="526.19" y2="893.5" stroke="#dc5656" stroke-width="1.2"/>
<circle cx="520.97" cy="889.31" r="1.37" fill="#dc5656"/>
<circle cx="524.68" cy="908.08" r="1.37" fill="#dc5656"/>
<circle cx="523.25" cy="896.04" r="1.37" fill="#dc5656"/>
<circle cx="523.07" cy="897.06" r="1.37" fill="#dc5656"/>
<circle cx="523.76" cy="905.18" r="1.37" fill="#dc5656"/>
<rect x="534.55" y="903.28" width="8.6" height="51.72" fill="#fff" stroke="#23238f" stroke-width="1.2"/>
<line x1="538.5" y1="903.28" x2="538.5" y2="898.31" stroke="#23238f" stroke-width="1.2"/>
<line x1="535.91" y1="898.5" x2="541.79" y2="898.5" stroke="#23238f" stroke-width="1.2"/>
<polygon points="540.03,892.65 538.47,895.64 541.59,895.64" fill="#23238f"/>
<polygon points="538.51,909.54 536.95,912.53 540.07,912.53" fill="#23238f"/>
<polygon points="540.07,900.49 538.51,903.48 541.63,903.48" fill="#23238f"/>
<polygon points="537.52,902.76 535.96,905.75 539.08,905.75" fill="#23238f"/>
<polygon points="540.71,898.28 539.15,901.27 542.27,901.27" fill="#23238f"/>
<rect x="560.6" y="902.01" width="8.6" height="52.99" fill="#fff" stroke="#1a1a1a" stroke-width="1.2"/>
<line x1="564.5" y1="902.01" x2="564.5" y2="897.59" stroke="#1a1a1a" stroke-width="1.2"/>
<line x1="561.96" y1="897.5" x2="567.84" y2="897.5" stroke="#1a1a1a" stroke-width="1.2"/>
<rect x="564.58" y="892.76" width="2.6" height="2.6" fill="#1a1a1a"/>
<rect x="564.48" y="907.77" width="2.6" height="2.6" fill="#1a1a1a"/>
<rect x="563.37" y="898.83" width="2.6" height="2.6" fill="#1a1a1a"/>
<rect x="564.23" y="903.19" width="2.6" height="2.6" fill="#1a1a1a"/>
<rect x="563.21" y="906.04" width="2.6" height="2.6" fill="#1a1a1a"/>
<rect x="576.2" y="843.61" width="8.6" height="111.39" fill="#fff" stroke="#dc5656" stroke-width="1.2"/>
<line x1="580.5" y1="843.61" x2="580.5" y2="835.88" stroke="#dc5656" stroke-width="1.2"/>
<line x1="577.56" y1="835.5" x2="583.44" y2="835.5" stroke="#dc5656" stroke-width="1.2"/>
<circle cx="581.54" cy="829.7" r="1.37" fill="#dc5656"/>
<circle cx="579.28" cy="855.97" r="1.37" fill="#dc5656"/>
<circle cx="580.28" cy="845.38" r="1.37" fill="#dc5656"/>
<circle cx="580.06" cy="840.79" r="1.37" fill="#dc5656"/>
<circle cx="582.61" cy="839.54" r="1.37" fill="#dc5656"/>
<rect x="591.8" y="872.42" width="8.6" height="82.58" fill="#fff" stroke="#23238f" stroke-width="1.2"/>
<line x1="596.5" y1="872.42" x2="596.5" y2="866.9" stroke="#23238f" stroke-width="1.2"/>
<line x1="593.16" y1="866.5" x2="599.04" y2="866.5" stroke="#23238f" stroke-width="1.2"/>
<polygon points="596.86,860.79 595.3,863.78 598.42,863.78" fill="#23238f"/>
<polygon points="595.55,879.56 593.99,882.55 597.11,882.55" fill="#23238f"/>
<polygon points="598.43,870.9 596.87,873.89 599.99,873.89" fill="#23238f"/>
<polygon points="596.31,878.38 594.75,881.37 597.87,881.37" fill="#23238f"/>
<polygon points="597.48,876.35 595.92,879.34 599.04,879.34" fill="#23238f"/>
<text x="465.75" y="967.5" font-size="9" font-weight="bold" text-anchor="middle" textLength="23" lengthAdjust="spacingAndGlyphs">SIRT1</text>
<text x="523.25" y="967.5" font-size="9" font-weight="bold" text-anchor="middle" textLength="39" lengthAdjust="spacingAndGlyphs">β-catenin</text>
<text x="579.25" y="968.3" font-size="9" font-weight="bold" text-anchor="middle" textLength="45" lengthAdjust="spacingAndGlyphs">Acetylated</text>
<text x="578" y="979.5" font-size="9" font-weight="bold" text-anchor="middle" textLength="39" lengthAdjust="spacingAndGlyphs">β-catenin</text>
<text x="419" y="885" font-size="11.5" text-anchor="middle" textLength="115" lengthAdjust="spacingAndGlyphs" transform="rotate(-90 419 885)">Relative expression (%)</text>
<polyline points="450.5,888.5 450.5,885.5 466.5,885.5 466.5,935.5" fill="none" stroke="#111" stroke-width="1.1"/>
<text x="444" y="881.5" font-size="7.2" fill="#222" textLength="26.7" lengthAdjust="spacingAndGlyphs">p&lt;0.0001</text>
<polyline points="468.5,935.5 468.5,912.5 480.5,912.5 480.5,915.5" fill="none" stroke="#111" stroke-width="1.1"/>
<text x="467" y="908.8" font-size="7.2" fill="#222" textLength="27" lengthAdjust="spacingAndGlyphs">p=0.0033</text>
<polyline points="564.5,882.5 564.5,825.5 579.5,825.5 579.5,828.5" fill="none" stroke="#111" stroke-width="1.1"/>
<text x="550.7" y="822.9" font-size="7.2" fill="#222" textLength="28" lengthAdjust="spacingAndGlyphs">p&lt;0.0001</text>
<polyline points="580.5,825.5 595.5,825.5 595.5,857.5" fill="none" stroke="#111" stroke-width="1.1"/>
<text x="580.75" y="822.3" font-size="7.2" fill="#222" textLength="27.3" lengthAdjust="spacingAndGlyphs">p=0.0004</text>
<text x="632.5" y="769.8" font-size="29" font-weight="bold" fill="#000">J</text>
<rect x="678.35" y="769.44" width="2.9" height="2.9" fill="#1a1a1a"/>
<text x="688.8" y="774.6" font-size="10.3" textLength="69.7" lengthAdjust="spacingAndGlyphs">Control+Vehicle</text>
<circle cx="679.8" cy="781.89" r="1.52" fill="#dc5656"/>
<text x="688.8" y="785.6" font-size="10.3" textLength="63.5" lengthAdjust="spacingAndGlyphs">DNFB+Vehicle</text>
<polygon points="679.8,791.11 678.06,794.44 681.54,794.44" fill="#23238f"/>
<text x="688.8" y="796.7" font-size="10.3" textLength="74" lengthAdjust="spacingAndGlyphs">DNFB+SRT1720</text>
<line x1="676.5" y1="816.9" x2="676.5" y2="955.4" stroke="#1a1a1a" stroke-width="1"/>
<line x1="671.4" y1="954.5" x2="676.4" y2="954.5" stroke="#1a1a1a" stroke-width="1"/>
<text x="669.8" y="957.85" font-size="8.2" font-weight="bold" text-anchor="end" textLength="12" lengthAdjust="spacingAndGlyphs">300</text>
<line x1="671.4" y1="920.5" x2="676.4" y2="920.5" stroke="#1a1a1a" stroke-width="1"/>
<text x="669.8" y="923.35" font-size="8.2" font-weight="bold" text-anchor="end" textLength="12" lengthAdjust="spacingAndGlyphs">400</text>
<line x1="671.4" y1="885.5" x2="676.4" y2="885.5" stroke="#1a1a1a" stroke-width="1"/>
<text x="669.8" y="888.85" font-size="8.2" font-weight="bold" text-anchor="end" textLength="12" lengthAdjust="spacingAndGlyphs">500</text>
<line x1="671.4" y1="851.5" x2="676.4" y2="851.5" stroke="#1a1a1a" stroke-width="1"/>
<text x="669.8" y="854.35" font-size="8.2" font-weight="bold" text-anchor="end" textLength="12" lengthAdjust="spacingAndGlyphs">600</text>
<line x1="671.4" y1="816.5" x2="676.4" y2="816.5" stroke="#1a1a1a" stroke-width="1"/>
<text x="669.8" y="819.85" font-size="8.2" font-weight="bold" text-anchor="end" textLength="12" lengthAdjust="spacingAndGlyphs">700</text>
<line x1="676.4" y1="954.5" x2="754.2" y2="954.5" stroke="#1a1a1a" stroke-width="1"/>
<line x1="688.8" y1="954.9" x2="688.8" y2="957.2" stroke="#1a1a1a" stroke-width="1"/>
<line x1="714.5" y1="954.9" x2="714.5" y2="957.2" stroke="#1a1a1a" stroke-width="1"/>
<line x1="740.9" y1="954.9" x2="740.9" y2="957.2" stroke="#1a1a1a" stroke-width="1"/>
<rect x="681.2" y="854.5" width="15.8" height="100.39" fill="#fff" stroke="#1a1a1a" stroke-width="1.2"/>
<line x1="689.5" y1="854.5" x2="689.5" y2="843.47" stroke="#1a1a1a" stroke-width="1.2"/>
<line x1="684" y1="843.5" x2="694.2" y2="843.5" stroke="#1a1a1a" stroke-width="1.2"/>
<rect x="706.9" y="924.88" width="15.8" height="30.01" fill="#fff" stroke="#dc5656" stroke-width="1.2"/>
<line x1="714.5" y1="924.88" x2="714.5" y2="916.95" stroke="#dc5656" stroke-width="1.2"/>
<line x1="709.7" y1="916.5" x2="719.9" y2="916.5" stroke="#dc5656" stroke-width="1.2"/>
<rect x="733.3" y="888.66" width="15.8" height="66.24" fill="#fff" stroke="#23238f" stroke-width="1.2"/>
<line x1="741.5" y1="888.66" x2="741.5" y2="874.17" stroke="#23238f" stroke-width="1.2"/>
<line x1="736.1" y1="874.5" x2="746.3" y2="874.5" stroke="#23238f" stroke-width="1.2"/>
<rect x="683.05" y="842.7" width="2.9" height="2.9" fill="#1a1a1a"/>
<rect x="692.05" y="849.6" width="2.9" height="2.9" fill="#1a1a1a"/>
<rect x="687.85" y="864.78" width="2.9" height="2.9" fill="#1a1a1a"/>
<rect x="689.55" y="852.02" width="2.9" height="2.9" fill="#1a1a1a"/>
<circle cx="714.5" cy="913.85" r="1.52" fill="#dc5656"/>
<circle cx="709.8" cy="930.06" r="1.52" fill="#dc5656"/>
<circle cx="719.6" cy="929.02" r="1.52" fill="#dc5656"/>
<circle cx="714.5" cy="921.09" r="1.52" fill="#dc5656"/>
<polygon points="741,868.49 739.26,871.83 742.74,871.83" fill="#23238f"/>
<polygon points="736.2,880.22 734.46,883.56 737.94,883.56" fill="#23238f"/>
<polygon points="737.9,900.23 736.16,903.57 739.64,903.57" fill="#23238f"/>
<polygon points="746,900.23 744.26,903.57 747.74,903.57" fill="#23238f"/>
<polygon points="743,875.04 741.26,878.38 744.74,878.38" fill="#23238f"/>
<text x="650.3" y="883.5" font-size="11" text-anchor="middle" textLength="145" lengthAdjust="spacingAndGlyphs" transform="rotate(-90 650.3 883.5)">SIRT1 activity (arbitrary units)</text>
<polyline points="688.5,836.5 688.5,834.5 714.5,834.5 714.5,903.5" fill="none" stroke="#111" stroke-width="1.1"/>
<text x="688.3" y="831.8" font-size="7.2" fill="#222" textLength="27.4" lengthAdjust="spacingAndGlyphs">p&lt;0.0001</text>
<polyline points="717.5,903.5 717.5,857.5 739.5,857.5 739.5,861.5" fill="none" stroke="#111" stroke-width="1.1"/>
<text x="716.8" y="854.3" font-size="7.2" fill="#222" textLength="27" lengthAdjust="spacingAndGlyphs">p=0.0006</text>
</svg>
</body></html>
